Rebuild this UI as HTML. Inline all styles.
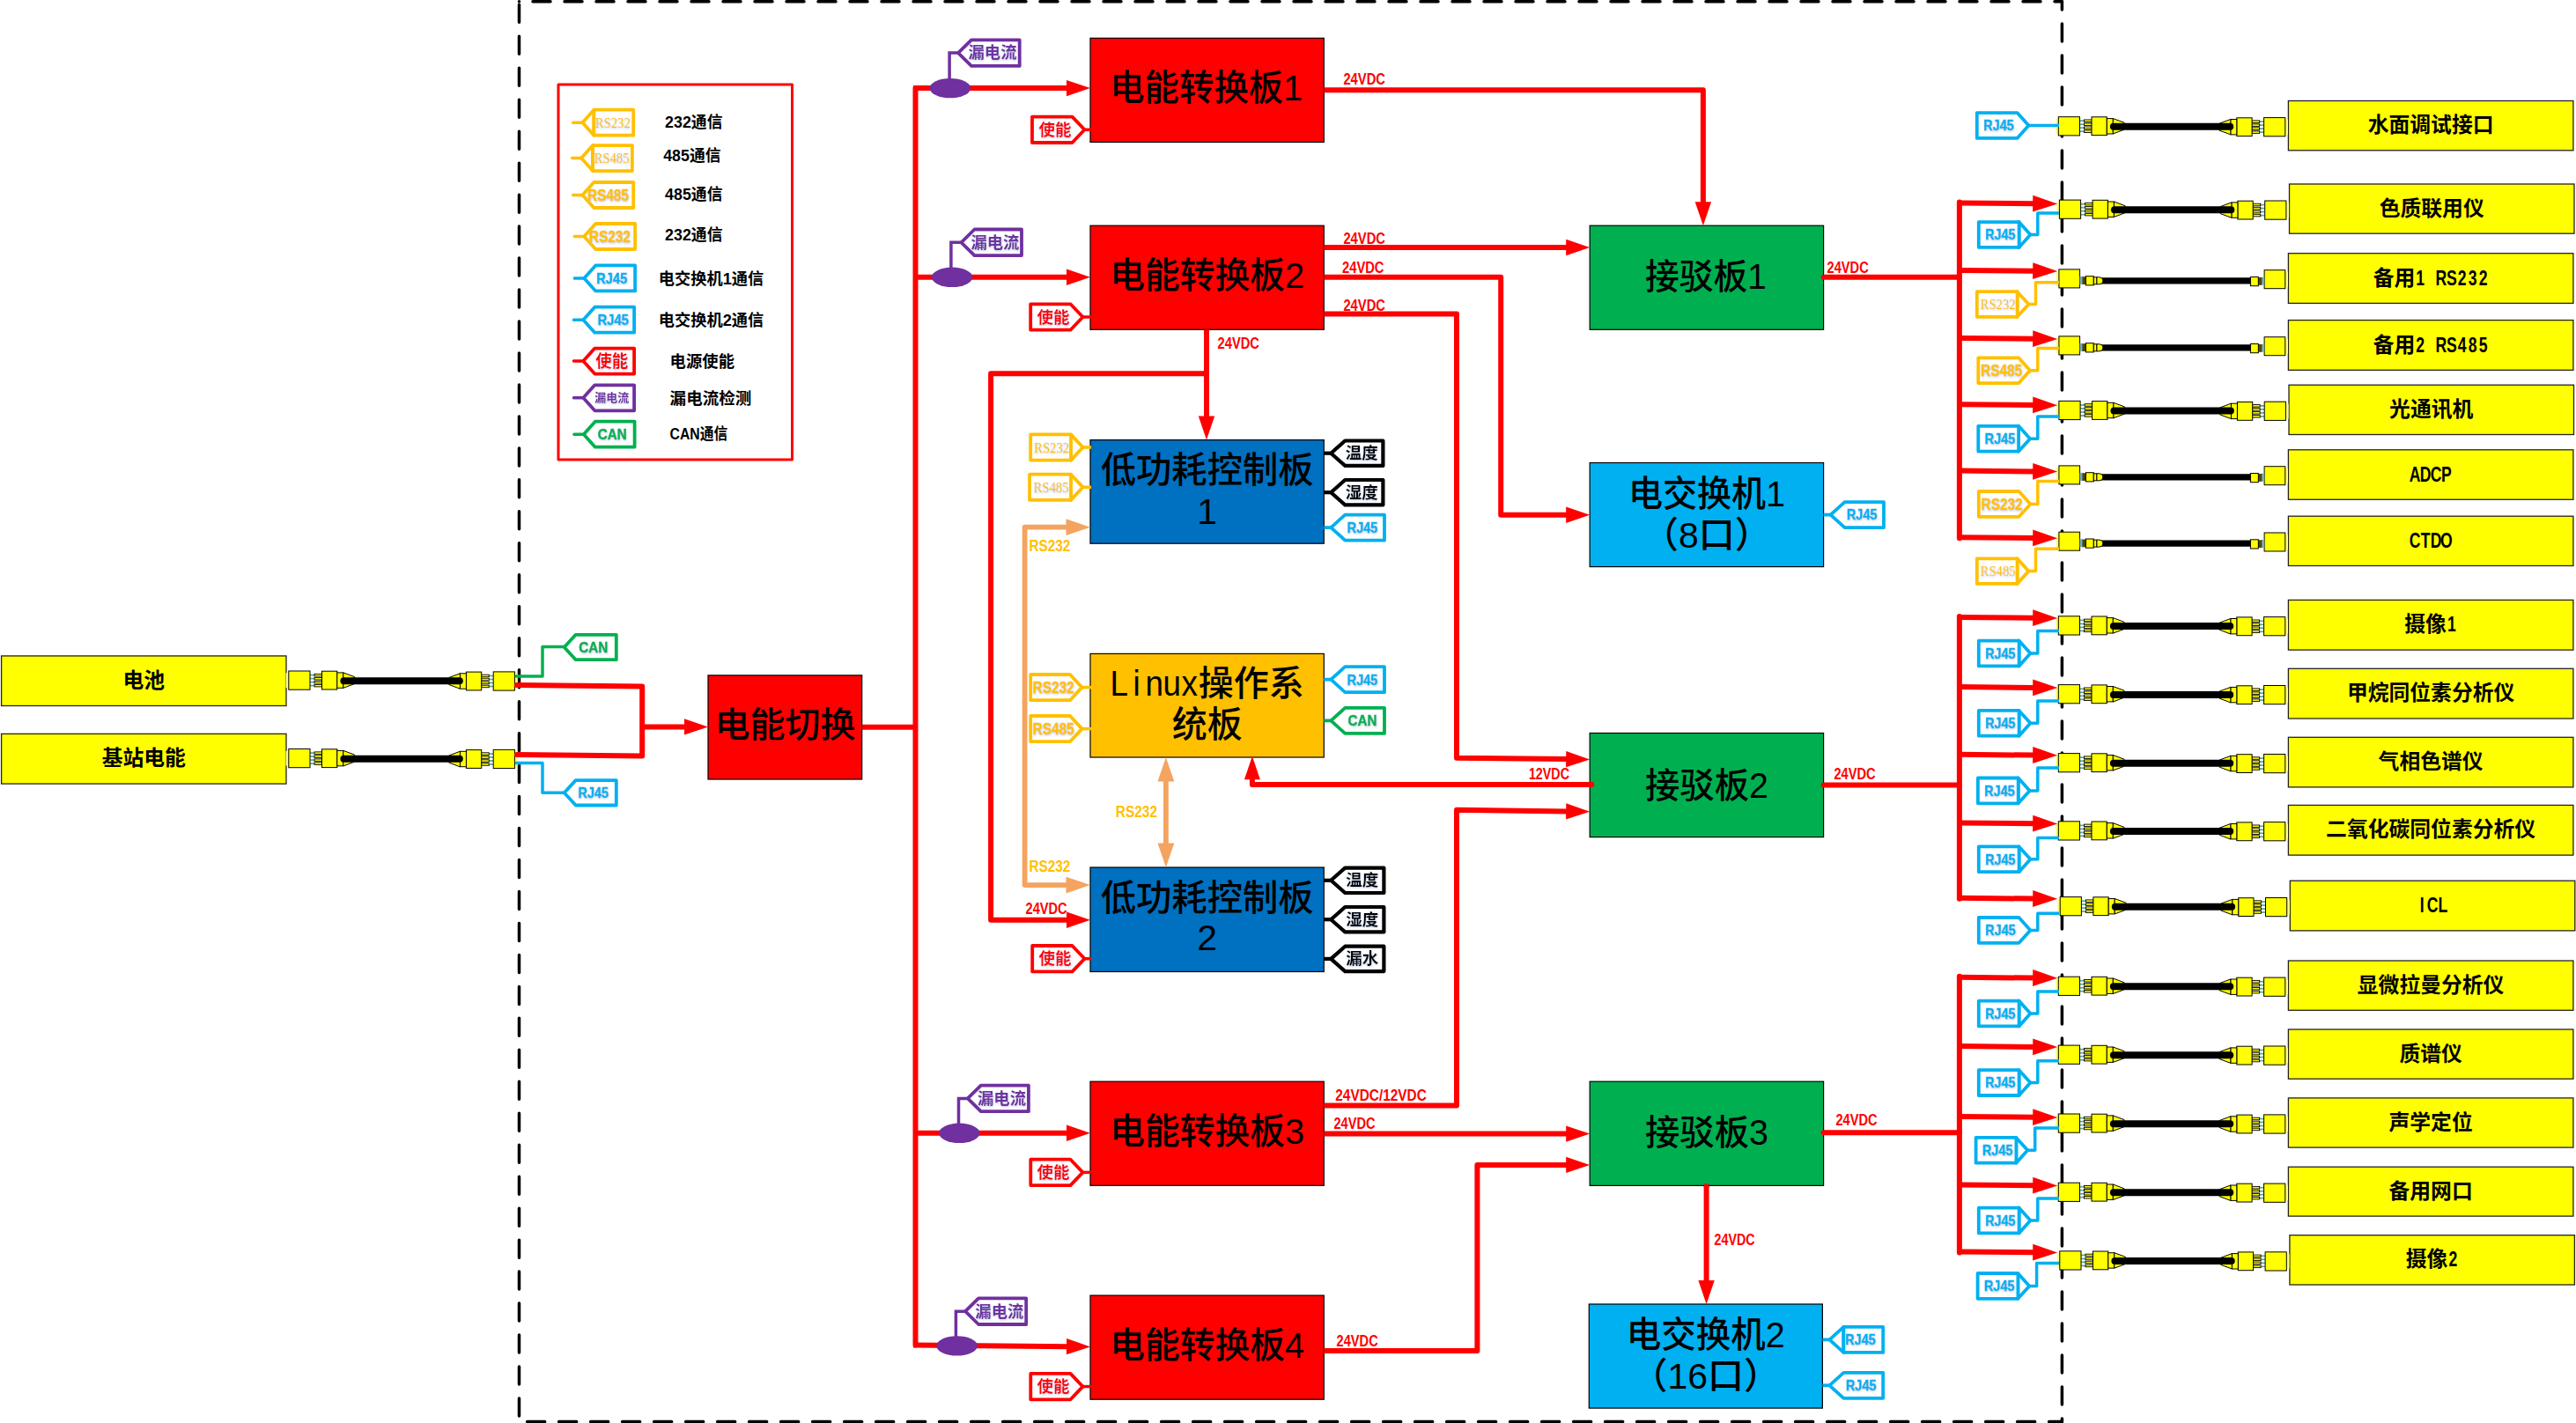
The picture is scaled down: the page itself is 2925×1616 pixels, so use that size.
<!DOCTYPE html>
<html lang="zh"><head><meta charset="utf-8"><title>系统框图</title>
<style>html,body{margin:0;padding:0;background:#fff}svg{display:block}</style></head>
<body><svg width="2925" height="1616" viewBox="0 0 2925 1616">
<defs><filter id="sh" x="-10%" y="-20%" width="120%" height="150%"><feDropShadow dx="0.4" dy="1.1" stdDeviation="0.8" flood-color="#b8c6e4" flood-opacity="0.9"/></filter></defs>
<rect x="0" y="0" width="2925" height="1616" fill="#fff"/>
<line x1="589.5" y1="1.8" x2="2341.4" y2="1.8" stroke="#000" stroke-width="3.5" stroke-dasharray="20 16" stroke-dashoffset="20.5" stroke-linecap="round"/>
<line x1="589.5" y1="1.8" x2="589.5" y2="1614.4" stroke="#000" stroke-width="3.5" stroke-dasharray="20 15.97" stroke-dashoffset="32.45" stroke-linecap="round"/>
<line x1="2341.4" y1="1.8" x2="2341.4" y2="1614.4" stroke="#000" stroke-width="3.5" stroke-dasharray="20 16" stroke-dashoffset="10.75" stroke-linecap="round"/>
<line x1="589.5" y1="1614.4" x2="2341.4" y2="1614.4" stroke="#000" stroke-width="3.5" stroke-dasharray="20 16" stroke-dashoffset="26.85" stroke-linecap="round"/>
<circle cx="589.5" cy="1.8" r="1.75" fill="#000"/>
<rect x="634" y="96" width="265.5" height="426" fill="none" stroke="#FF0000" stroke-width="3" stroke-linejoin="round"/>
<polyline points="650.7,139.2 661.4,139.2" fill="none" stroke="#FFC000" stroke-width="3.5" stroke-linecap="round" stroke-linejoin="round"/>
<polygon points="661.4,139.2 674.4,124.7 674.4,153.7" fill="#fff" stroke="#FFC000" stroke-width="3.8" stroke-linejoin="round"/>
<rect x="674.4" y="124.7" width="44.8" height="29.0" fill="#fff" stroke="#FFC000" stroke-width="3.8" stroke-linejoin="round"/>
<text x="695.8" y="144.8" font-size="16" fill="#FFC000" font-weight="normal" text-anchor="middle" font-family='"Liberation Serif","Noto Serif CJK SC",serif' textLength="40.0" lengthAdjust="spacingAndGlyphs" filter="url(#sh)">RS232</text>
<polyline points="649.7,179.6 660.1,179.6" fill="none" stroke="#FFC000" stroke-width="3.5" stroke-linecap="round" stroke-linejoin="round"/>
<polygon points="660.1,179.6 673.1,165.1 673.1,194.1" fill="#fff" stroke="#FFC000" stroke-width="3.8" stroke-linejoin="round"/>
<rect x="673.1" y="165.1" width="44.8" height="29.0" fill="#fff" stroke="#FFC000" stroke-width="3.8" stroke-linejoin="round"/>
<text x="694.5" y="185.2" font-size="16" fill="#FFC000" font-weight="normal" text-anchor="middle" font-family='"Liberation Serif","Noto Serif CJK SC",serif' textLength="40.0" lengthAdjust="spacingAndGlyphs" filter="url(#sh)">RS485</text>
<polyline points="650.7,221.5 661.4,221.5" fill="none" stroke="#FFC000" stroke-width="3.5" stroke-linecap="round" stroke-linejoin="round"/>
<polygon points="661.4,221.5 674.4,207.0 719.2,207.0 719.2,236.0 674.4,236.0" fill="#fff" stroke="#FFC000" stroke-width="3.8" stroke-linejoin="round"/>
<text x="690.4" y="227.6" font-size="17.5" fill="#FFC000" font-weight="bold" text-anchor="middle" font-family='"Liberation Sans","Noto Sans CJK SC",sans-serif' textLength="47.0" lengthAdjust="spacingAndGlyphs" filter="url(#sh)" stroke="#FFC000" stroke-width="0.5">RS485</text>
<polyline points="652.3,268.5 663.3,268.5" fill="none" stroke="#FFC000" stroke-width="3.5" stroke-linecap="round" stroke-linejoin="round"/>
<polygon points="663.3,268.5 676.3,254.0 721.1,254.0 721.1,283.0 676.3,283.0" fill="#fff" stroke="#FFC000" stroke-width="3.8" stroke-linejoin="round"/>
<text x="692.3" y="274.6" font-size="17.5" fill="#FFC000" font-weight="bold" text-anchor="middle" font-family='"Liberation Sans","Noto Sans CJK SC",sans-serif' textLength="47.0" lengthAdjust="spacingAndGlyphs" filter="url(#sh)" stroke="#FFC000" stroke-width="0.5">RS232</text>
<polyline points="652.3,315.9 663.3,315.9" fill="none" stroke="#00B0F0" stroke-width="3.5" stroke-linecap="round" stroke-linejoin="round"/>
<polygon points="663.3,315.9 676.3,301.4 721.1,301.4 721.1,330.4 676.3,330.4" fill="#fff" stroke="#00B0F0" stroke-width="3.8" stroke-linejoin="round"/>
<text x="694.8" y="321.7" font-size="16.5" fill="#00B0F0" font-weight="bold" text-anchor="middle" font-family='"Liberation Sans","Noto Sans CJK SC",sans-serif' textLength="35.0" lengthAdjust="spacingAndGlyphs" filter="url(#sh)" stroke="#00B0F0" stroke-width="0.5">RJ45</text>
<polyline points="651.5,363.2 662.3,363.2" fill="none" stroke="#00B0F0" stroke-width="3.5" stroke-linecap="round" stroke-linejoin="round"/>
<polygon points="662.3,363.2 675.3,348.7 720.1,348.7 720.1,377.7 675.3,377.7" fill="#fff" stroke="#00B0F0" stroke-width="3.8" stroke-linejoin="round"/>
<text x="696.3" y="369.0" font-size="16.5" fill="#00B0F0" font-weight="bold" text-anchor="middle" font-family='"Liberation Sans","Noto Sans CJK SC",sans-serif' textLength="35.0" lengthAdjust="spacingAndGlyphs" filter="url(#sh)" stroke="#00B0F0" stroke-width="0.5">RJ45</text>
<polyline points="651.5,410.1 662.3,410.1" fill="none" stroke="#FF0000" stroke-width="3.5" stroke-linecap="round" stroke-linejoin="round"/>
<polygon points="662.3,410.1 675.3,395.6 720.1,395.6 720.1,424.6 675.3,424.6" fill="#fff" stroke="#FF0000" stroke-width="3.8" stroke-linejoin="round"/>
<text x="694.8" y="416.8" font-size="19" fill="#FF0000" font-weight="bold" text-anchor="middle" font-family='"Liberation Sans","Noto Sans CJK SC",sans-serif' textLength="37.0" lengthAdjust="spacingAndGlyphs" filter="url(#sh)">使能</text>
<polyline points="651.5,451.8 662.3,451.8" fill="none" stroke="#7030A0" stroke-width="3.5" stroke-linecap="round" stroke-linejoin="round"/>
<polygon points="662.3,451.8 675.3,437.3 720.1,437.3 720.1,466.3 675.3,466.3" fill="#fff" stroke="#7030A0" stroke-width="3.8" stroke-linejoin="round"/>
<text x="694.8" y="456.4" font-size="13" fill="#7030A0" font-weight="bold" text-anchor="middle" font-family='"Liberation Sans","Noto Sans CJK SC",sans-serif' filter="url(#sh)">漏电流</text>
<polyline points="652.0,493.2 662.8,493.2" fill="none" stroke="#00B050" stroke-width="3.5" stroke-linecap="round" stroke-linejoin="round"/>
<polygon points="662.8,493.2 675.8,478.7 720.6,478.7 720.6,507.7 675.8,507.7" fill="#fff" stroke="#00B050" stroke-width="3.8" stroke-linejoin="round"/>
<text x="695.3" y="499.0" font-size="16.5" fill="#00B050" font-weight="bold" text-anchor="middle" font-family='"Liberation Sans","Noto Sans CJK SC",sans-serif' textLength="33.0" lengthAdjust="spacingAndGlyphs" filter="url(#sh)" stroke="#00B050" stroke-width="0.5">CAN</text>
<text x="755.1" y="145.3" font-size="18.5" fill="#000" font-weight="bold" text-anchor="start" font-family='"Liberation Sans","Noto Sans CJK SC",sans-serif' textLength="65.4" lengthAdjust="spacingAndGlyphs" >232通信</text>
<text x="753.2" y="182.8" font-size="18.5" fill="#000" font-weight="bold" text-anchor="start" font-family='"Liberation Sans","Noto Sans CJK SC",sans-serif' textLength="65.4" lengthAdjust="spacingAndGlyphs" >485通信</text>
<text x="755.1" y="227.1" font-size="18.5" fill="#000" font-weight="bold" text-anchor="start" font-family='"Liberation Sans","Noto Sans CJK SC",sans-serif' textLength="65.4" lengthAdjust="spacingAndGlyphs" >485通信</text>
<text x="755.1" y="273.4" font-size="18.5" fill="#000" font-weight="bold" text-anchor="start" font-family='"Liberation Sans","Noto Sans CJK SC",sans-serif' textLength="65.4" lengthAdjust="spacingAndGlyphs" >232通信</text>
<text x="747.7" y="322.5" font-size="18.5" fill="#000" font-weight="bold" text-anchor="start" font-family='"Liberation Sans","Noto Sans CJK SC",sans-serif' textLength="119.6" lengthAdjust="spacingAndGlyphs" >电交换机1通信</text>
<text x="747.7" y="369.7" font-size="18.5" fill="#000" font-weight="bold" text-anchor="start" font-family='"Liberation Sans","Noto Sans CJK SC",sans-serif' textLength="119.6" lengthAdjust="spacingAndGlyphs" >电交换机2通信</text>
<text x="760.6" y="416.9" font-size="18.5" fill="#000" font-weight="bold" text-anchor="start" font-family='"Liberation Sans","Noto Sans CJK SC",sans-serif' textLength="73.4" lengthAdjust="spacingAndGlyphs" >电源使能</text>
<text x="760.6" y="459.0" font-size="18.5" fill="#000" font-weight="bold" text-anchor="start" font-family='"Liberation Sans","Noto Sans CJK SC",sans-serif' textLength="92.8" lengthAdjust="spacingAndGlyphs" >漏电流检测</text>
<text x="760.6" y="498.7" font-size="18.5" fill="#000" font-weight="bold" text-anchor="start" font-family='"Liberation Sans","Noto Sans CJK SC",sans-serif' textLength="65.7" lengthAdjust="spacingAndGlyphs" >CAN通信</text>
<rect x="2598.4" y="114.5" width="323.5" height="56.3" fill="#FFFF00" stroke="#222" stroke-width="1.3"/>
<text x="2688.7" y="150.2" font-size="23.8" fill="#000" font-weight="bold" text-anchor="start" font-family='"Liberation Sans","Noto Sans CJK SC",sans-serif' textLength="142.8" lengthAdjust="spacingAndGlyphs" >水面调试接口</text>
<rect x="2334.1" y="134.8" width="3.2" height="16.8" fill="#FFFF80" stroke="none" stroke-width="0"/>
<rect x="2361.5" y="136.3" width="5.8" height="1.8" fill="#5fa8a0" stroke="none" stroke-width="0"/>
<rect x="2366.5" y="136.0" width="8.8" height="2.5" fill="#FFFF00" stroke="#000" stroke-width="0.9"/>
<rect x="2361.5" y="140.3" width="5.8" height="1.8" fill="#5fa8a0" stroke="none" stroke-width="0"/>
<rect x="2366.5" y="140.0" width="8.8" height="2.5" fill="#FFFF00" stroke="#000" stroke-width="0.9"/>
<rect x="2361.5" y="144.3" width="5.8" height="1.8" fill="#5fa8a0" stroke="none" stroke-width="0"/>
<rect x="2366.5" y="144.0" width="8.8" height="2.5" fill="#FFFF00" stroke="#000" stroke-width="0.9"/>
<rect x="2361.5" y="148.3" width="5.8" height="1.8" fill="#5fa8a0" stroke="none" stroke-width="0"/>
<rect x="2366.5" y="148.0" width="8.8" height="2.5" fill="#FFFF00" stroke="#000" stroke-width="0.9"/>
<rect x="2337.3" y="132.7" width="24.2" height="21.2" fill="#FFFF00" stroke="#000" stroke-width="1"/>
<rect x="2375.0" y="132.8" width="17.3" height="20.8" fill="#FFFF00" stroke="#000" stroke-width="1"/>
<rect x="2392.3" y="134.6" width="7.0" height="17.4" fill="#FFFF00" stroke="#000" stroke-width="1"/>
<polygon points="2399.3,134.6 2412.0,139.2 2412.0,147.2 2399.3,151.9" fill="#FFFF00" stroke="#000" stroke-width="1" stroke-linejoin="round"/>
<rect x="2594.8" y="135.8" width="3.2" height="16.8" fill="#FFFF80" stroke="none" stroke-width="0"/>
<rect x="2564.8" y="137.2" width="5.8" height="1.8" fill="#5fa8a0" stroke="none" stroke-width="0"/>
<rect x="2556.8" y="136.9" width="8.8" height="2.5" fill="#FFFF00" stroke="#000" stroke-width="0.9"/>
<rect x="2564.8" y="141.2" width="5.8" height="1.8" fill="#5fa8a0" stroke="none" stroke-width="0"/>
<rect x="2556.8" y="140.9" width="8.8" height="2.5" fill="#FFFF00" stroke="#000" stroke-width="0.9"/>
<rect x="2564.8" y="145.2" width="5.8" height="1.8" fill="#5fa8a0" stroke="none" stroke-width="0"/>
<rect x="2556.8" y="144.9" width="8.8" height="2.5" fill="#FFFF00" stroke="#000" stroke-width="0.9"/>
<rect x="2564.8" y="149.2" width="5.8" height="1.8" fill="#5fa8a0" stroke="none" stroke-width="0"/>
<rect x="2556.8" y="148.9" width="8.8" height="2.5" fill="#FFFF00" stroke="#000" stroke-width="0.9"/>
<rect x="2570.6" y="133.6" width="24.2" height="21.2" fill="#FFFF00" stroke="#000" stroke-width="1"/>
<rect x="2539.8" y="133.8" width="17.3" height="20.8" fill="#FFFF00" stroke="#000" stroke-width="1"/>
<rect x="2532.8" y="135.5" width="7.0" height="17.4" fill="#FFFF00" stroke="#000" stroke-width="1"/>
<polygon points="2532.8,135.5 2520.1,140.2 2520.1,148.2 2532.8,152.8" fill="#FFFF00" stroke="#000" stroke-width="1" stroke-linejoin="round"/>
<polyline points="2399.9,143.8 2532.2,143.8" fill="none" stroke="#000" stroke-width="8" stroke-linecap="round" stroke-linejoin="round"/>
<rect x="2599.5" y="209.0" width="323.5" height="56.2" fill="#FFFF00" stroke="#222" stroke-width="1.3"/>
<text x="2701.7" y="244.7" font-size="23.8" fill="#000" font-weight="bold" text-anchor="start" font-family='"Liberation Sans","Noto Sans CJK SC",sans-serif' textLength="119.0" lengthAdjust="spacingAndGlyphs" >色质联用仪</text>
<rect x="2335.2" y="229.3" width="3.2" height="16.8" fill="#FFFF80" stroke="none" stroke-width="0"/>
<rect x="2362.6" y="230.8" width="5.8" height="1.8" fill="#5fa8a0" stroke="none" stroke-width="0"/>
<rect x="2367.6" y="230.4" width="8.8" height="2.5" fill="#FFFF00" stroke="#000" stroke-width="0.9"/>
<rect x="2362.6" y="234.8" width="5.8" height="1.8" fill="#5fa8a0" stroke="none" stroke-width="0"/>
<rect x="2367.6" y="234.4" width="8.8" height="2.5" fill="#FFFF00" stroke="#000" stroke-width="0.9"/>
<rect x="2362.6" y="238.8" width="5.8" height="1.8" fill="#5fa8a0" stroke="none" stroke-width="0"/>
<rect x="2367.6" y="238.4" width="8.8" height="2.5" fill="#FFFF00" stroke="#000" stroke-width="0.9"/>
<rect x="2362.6" y="242.8" width="5.8" height="1.8" fill="#5fa8a0" stroke="none" stroke-width="0"/>
<rect x="2367.6" y="242.4" width="8.8" height="2.5" fill="#FFFF00" stroke="#000" stroke-width="0.9"/>
<rect x="2338.4" y="227.1" width="24.2" height="21.2" fill="#FFFF00" stroke="#000" stroke-width="1"/>
<rect x="2376.1" y="227.3" width="17.3" height="20.8" fill="#FFFF00" stroke="#000" stroke-width="1"/>
<rect x="2393.4" y="229.0" width="7.0" height="17.4" fill="#FFFF00" stroke="#000" stroke-width="1"/>
<polygon points="2400.4,229.0 2413.1,233.7 2413.1,241.7 2400.4,246.4" fill="#FFFF00" stroke="#000" stroke-width="1" stroke-linejoin="round"/>
<rect x="2595.9" y="230.2" width="3.2" height="16.8" fill="#FFFF80" stroke="none" stroke-width="0"/>
<rect x="2565.9" y="231.7" width="5.8" height="1.8" fill="#5fa8a0" stroke="none" stroke-width="0"/>
<rect x="2557.9" y="231.3" width="8.8" height="2.5" fill="#FFFF00" stroke="#000" stroke-width="0.9"/>
<rect x="2565.9" y="235.7" width="5.8" height="1.8" fill="#5fa8a0" stroke="none" stroke-width="0"/>
<rect x="2557.9" y="235.3" width="8.8" height="2.5" fill="#FFFF00" stroke="#000" stroke-width="0.9"/>
<rect x="2565.9" y="239.7" width="5.8" height="1.8" fill="#5fa8a0" stroke="none" stroke-width="0"/>
<rect x="2557.9" y="239.3" width="8.8" height="2.5" fill="#FFFF00" stroke="#000" stroke-width="0.9"/>
<rect x="2565.9" y="243.7" width="5.8" height="1.8" fill="#5fa8a0" stroke="none" stroke-width="0"/>
<rect x="2557.9" y="243.3" width="8.8" height="2.5" fill="#FFFF00" stroke="#000" stroke-width="0.9"/>
<rect x="2571.7" y="228.0" width="24.2" height="21.2" fill="#FFFF00" stroke="#000" stroke-width="1"/>
<rect x="2540.9" y="228.2" width="17.3" height="20.8" fill="#FFFF00" stroke="#000" stroke-width="1"/>
<rect x="2533.9" y="229.9" width="7.0" height="17.4" fill="#FFFF00" stroke="#000" stroke-width="1"/>
<polygon points="2533.9,229.9 2521.2,234.6 2521.2,242.6 2533.9,247.3" fill="#FFFF00" stroke="#000" stroke-width="1" stroke-linejoin="round"/>
<polyline points="2401.0,238.3 2533.3,238.3" fill="none" stroke="#000" stroke-width="8" stroke-linecap="round" stroke-linejoin="round"/>
<rect x="2598.4" y="287.7" width="323.5" height="56.7" fill="#FFFF00" stroke="#222" stroke-width="1.3"/>
<text x="2694.7" y="323.6" font-size="23.8" fill="#000" font-weight="bold" text-anchor="start" font-family='"Liberation Sans","Noto Sans CJK SC",sans-serif' textLength="47.6" lengthAdjust="spacingAndGlyphs" >备用</text>
<text transform="translate(2742.2,323.6) scale(0.74,1)" x="8.0 40.2 56.3 72.4 88.4 104.5" y="0" font-size="23.8" fill="#000" font-weight="bold" text-anchor="middle" font-family='"Liberation Sans","Noto Sans CJK SC",sans-serif'>1RS232</text>
<polyline points="2383.9,318.8 2556.8,318.8" fill="none" stroke="#000" stroke-width="7.2" stroke-linecap="butt" stroke-linejoin="round"/>
<rect x="2334.7" y="308.0" width="3.2" height="16.8" fill="#FFFF80" stroke="none" stroke-width="0"/>
<rect x="2337.9" y="305.9" width="23.7" height="21.0" fill="#FFFF00" stroke="#000" stroke-width="1"/>
<rect x="2361.6" y="313.9" width="3.3" height="9.0" fill="#6fb0c0" stroke="none" stroke-width="0"/>
<rect x="2364.4" y="314.2" width="4.5" height="8.8" fill="#554400" stroke="none" stroke-width="0"/>
<rect x="2368.4" y="313.7" width="8.9" height="10.2" fill="#FFFF00" stroke="#000" stroke-width="1"/>
<rect x="2377.3" y="314.8" width="3.6" height="8.0" fill="#FFFF00" stroke="#000" stroke-width="1"/>
<path d="M2380.9,314.8 h3 a4,4 0 0 1 0,8 h-3 z" fill="#FFFF00" stroke="#000" stroke-width="1"/>
<rect x="2594.8" y="308.8" width="3.2" height="16.8" fill="#FFFF80" stroke="none" stroke-width="0"/>
<rect x="2571.1" y="306.7" width="23.7" height="21.0" fill="#FFFF00" stroke="#000" stroke-width="1"/>
<rect x="2567.8" y="314.7" width="3.3" height="9.0" fill="#6fb0c0" stroke="none" stroke-width="0"/>
<rect x="2563.8" y="315.0" width="4.5" height="8.8" fill="#554400" stroke="none" stroke-width="0"/>
<rect x="2555.4" y="314.5" width="8.9" height="10.2" fill="#FFFF00" stroke="#000" stroke-width="1"/>
<rect x="2598.4" y="363.6" width="323.5" height="56.7" fill="#FFFF00" stroke="#222" stroke-width="1.3"/>
<text x="2694.7" y="399.6" font-size="23.8" fill="#000" font-weight="bold" text-anchor="start" font-family='"Liberation Sans","Noto Sans CJK SC",sans-serif' textLength="47.6" lengthAdjust="spacingAndGlyphs" >备用</text>
<text transform="translate(2742.2,399.6) scale(0.74,1)" x="8.0 40.2 56.3 72.4 88.4 104.5" y="0" font-size="23.8" fill="#000" font-weight="bold" text-anchor="middle" font-family='"Liberation Sans","Noto Sans CJK SC",sans-serif'>2RS485</text>
<polyline points="2383.9,394.8 2556.8,394.8" fill="none" stroke="#000" stroke-width="7.2" stroke-linecap="butt" stroke-linejoin="round"/>
<rect x="2334.7" y="384.0" width="3.2" height="16.8" fill="#FFFF80" stroke="none" stroke-width="0"/>
<rect x="2337.9" y="381.9" width="23.7" height="21.0" fill="#FFFF00" stroke="#000" stroke-width="1"/>
<rect x="2361.6" y="389.9" width="3.3" height="9.0" fill="#6fb0c0" stroke="none" stroke-width="0"/>
<rect x="2364.4" y="390.2" width="4.5" height="8.8" fill="#554400" stroke="none" stroke-width="0"/>
<rect x="2368.4" y="389.7" width="8.9" height="10.2" fill="#FFFF00" stroke="#000" stroke-width="1"/>
<rect x="2377.3" y="390.8" width="3.6" height="8.0" fill="#FFFF00" stroke="#000" stroke-width="1"/>
<path d="M2380.9,390.8 h3 a4,4 0 0 1 0,8 h-3 z" fill="#FFFF00" stroke="#000" stroke-width="1"/>
<rect x="2594.8" y="384.8" width="3.2" height="16.8" fill="#FFFF80" stroke="none" stroke-width="0"/>
<rect x="2571.1" y="382.7" width="23.7" height="21.0" fill="#FFFF00" stroke="#000" stroke-width="1"/>
<rect x="2567.8" y="390.7" width="3.3" height="9.0" fill="#6fb0c0" stroke="none" stroke-width="0"/>
<rect x="2563.8" y="391.0" width="4.5" height="8.8" fill="#554400" stroke="none" stroke-width="0"/>
<rect x="2555.4" y="390.5" width="8.9" height="10.2" fill="#FFFF00" stroke="#000" stroke-width="1"/>
<rect x="2599.0" y="437.2" width="323.5" height="56.3" fill="#FFFF00" stroke="#222" stroke-width="1.3"/>
<text x="2713.1" y="473.0" font-size="23.8" fill="#000" font-weight="bold" text-anchor="start" font-family='"Liberation Sans","Noto Sans CJK SC",sans-serif' textLength="95.2" lengthAdjust="spacingAndGlyphs" >光通讯机</text>
<rect x="2334.7" y="457.6" width="3.2" height="16.8" fill="#FFFF80" stroke="none" stroke-width="0"/>
<rect x="2362.1" y="459.1" width="5.8" height="1.8" fill="#5fa8a0" stroke="none" stroke-width="0"/>
<rect x="2367.1" y="458.7" width="8.8" height="2.5" fill="#FFFF00" stroke="#000" stroke-width="0.9"/>
<rect x="2362.1" y="463.1" width="5.8" height="1.8" fill="#5fa8a0" stroke="none" stroke-width="0"/>
<rect x="2367.1" y="462.7" width="8.8" height="2.5" fill="#FFFF00" stroke="#000" stroke-width="0.9"/>
<rect x="2362.1" y="467.1" width="5.8" height="1.8" fill="#5fa8a0" stroke="none" stroke-width="0"/>
<rect x="2367.1" y="466.7" width="8.8" height="2.5" fill="#FFFF00" stroke="#000" stroke-width="0.9"/>
<rect x="2362.1" y="471.1" width="5.8" height="1.8" fill="#5fa8a0" stroke="none" stroke-width="0"/>
<rect x="2367.1" y="470.7" width="8.8" height="2.5" fill="#FFFF00" stroke="#000" stroke-width="0.9"/>
<rect x="2337.9" y="455.4" width="24.2" height="21.2" fill="#FFFF00" stroke="#000" stroke-width="1"/>
<rect x="2375.6" y="455.6" width="17.3" height="20.8" fill="#FFFF00" stroke="#000" stroke-width="1"/>
<rect x="2392.9" y="457.3" width="7.0" height="17.4" fill="#FFFF00" stroke="#000" stroke-width="1"/>
<polygon points="2399.9,457.3 2412.6,462.0 2412.6,470.0 2399.9,474.7" fill="#FFFF00" stroke="#000" stroke-width="1" stroke-linejoin="round"/>
<rect x="2595.4" y="458.5" width="3.2" height="16.8" fill="#FFFF80" stroke="none" stroke-width="0"/>
<rect x="2565.4" y="460.0" width="5.8" height="1.8" fill="#5fa8a0" stroke="none" stroke-width="0"/>
<rect x="2557.4" y="459.6" width="8.8" height="2.5" fill="#FFFF00" stroke="#000" stroke-width="0.9"/>
<rect x="2565.4" y="464.0" width="5.8" height="1.8" fill="#5fa8a0" stroke="none" stroke-width="0"/>
<rect x="2557.4" y="463.6" width="8.8" height="2.5" fill="#FFFF00" stroke="#000" stroke-width="0.9"/>
<rect x="2565.4" y="468.0" width="5.8" height="1.8" fill="#5fa8a0" stroke="none" stroke-width="0"/>
<rect x="2557.4" y="467.6" width="8.8" height="2.5" fill="#FFFF00" stroke="#000" stroke-width="0.9"/>
<rect x="2565.4" y="472.0" width="5.8" height="1.8" fill="#5fa8a0" stroke="none" stroke-width="0"/>
<rect x="2557.4" y="471.6" width="8.8" height="2.5" fill="#FFFF00" stroke="#000" stroke-width="0.9"/>
<rect x="2571.2" y="456.2" width="24.2" height="21.2" fill="#FFFF00" stroke="#000" stroke-width="1"/>
<rect x="2540.4" y="456.5" width="17.3" height="20.8" fill="#FFFF00" stroke="#000" stroke-width="1"/>
<rect x="2533.4" y="458.2" width="7.0" height="17.4" fill="#FFFF00" stroke="#000" stroke-width="1"/>
<polygon points="2533.4,458.2 2520.7,462.9 2520.7,470.9 2533.4,475.6" fill="#FFFF00" stroke="#000" stroke-width="1" stroke-linejoin="round"/>
<polyline points="2400.5,466.6 2532.8,466.6" fill="none" stroke="#000" stroke-width="8" stroke-linecap="round" stroke-linejoin="round"/>
<rect x="2598.4" y="510.8" width="323.5" height="56.5" fill="#FFFF00" stroke="#222" stroke-width="1.3"/>
<text transform="translate(2736.3,546.6) scale(0.74,1)" x="8.0 24.1 40.2 56.3" y="0" font-size="23.8" fill="#000" font-weight="bold" text-anchor="middle" font-family='"Liberation Sans","Noto Sans CJK SC",sans-serif'>ADCP</text>
<polyline points="2383.9,541.8 2556.8,541.8" fill="none" stroke="#000" stroke-width="7.2" stroke-linecap="butt" stroke-linejoin="round"/>
<rect x="2334.7" y="531.0" width="3.2" height="16.8" fill="#FFFF80" stroke="none" stroke-width="0"/>
<rect x="2337.9" y="528.9" width="23.7" height="21.0" fill="#FFFF00" stroke="#000" stroke-width="1"/>
<rect x="2361.6" y="536.9" width="3.3" height="9.0" fill="#6fb0c0" stroke="none" stroke-width="0"/>
<rect x="2364.4" y="537.2" width="4.5" height="8.8" fill="#554400" stroke="none" stroke-width="0"/>
<rect x="2368.4" y="536.7" width="8.9" height="10.2" fill="#FFFF00" stroke="#000" stroke-width="1"/>
<rect x="2377.3" y="537.8" width="3.6" height="8.0" fill="#FFFF00" stroke="#000" stroke-width="1"/>
<path d="M2380.9,537.8 h3 a4,4 0 0 1 0,8 h-3 z" fill="#FFFF00" stroke="#000" stroke-width="1"/>
<rect x="2594.8" y="531.8" width="3.2" height="16.8" fill="#FFFF80" stroke="none" stroke-width="0"/>
<rect x="2571.1" y="529.7" width="23.7" height="21.0" fill="#FFFF00" stroke="#000" stroke-width="1"/>
<rect x="2567.8" y="537.7" width="3.3" height="9.0" fill="#6fb0c0" stroke="none" stroke-width="0"/>
<rect x="2563.8" y="538.0" width="4.5" height="8.8" fill="#554400" stroke="none" stroke-width="0"/>
<rect x="2555.4" y="537.5" width="8.9" height="10.2" fill="#FFFF00" stroke="#000" stroke-width="1"/>
<rect x="2598.4" y="586.2" width="323.5" height="56.3" fill="#FFFF00" stroke="#222" stroke-width="1.3"/>
<text transform="translate(2736.3,622.0) scale(0.74,1)" x="8.0 24.1 40.2 56.3" y="0" font-size="23.8" fill="#000" font-weight="bold" text-anchor="middle" font-family='"Liberation Sans","Noto Sans CJK SC",sans-serif'>CTDO</text>
<polyline points="2383.9,617.1 2556.8,617.1" fill="none" stroke="#000" stroke-width="7.2" stroke-linecap="butt" stroke-linejoin="round"/>
<rect x="2334.7" y="606.4" width="3.2" height="16.8" fill="#FFFF80" stroke="none" stroke-width="0"/>
<rect x="2337.9" y="604.2" width="23.7" height="21.0" fill="#FFFF00" stroke="#000" stroke-width="1"/>
<rect x="2361.6" y="612.2" width="3.3" height="9.0" fill="#6fb0c0" stroke="none" stroke-width="0"/>
<rect x="2364.4" y="612.5" width="4.5" height="8.8" fill="#554400" stroke="none" stroke-width="0"/>
<rect x="2368.4" y="612.0" width="8.9" height="10.2" fill="#FFFF00" stroke="#000" stroke-width="1"/>
<rect x="2377.3" y="613.1" width="3.6" height="8.0" fill="#FFFF00" stroke="#000" stroke-width="1"/>
<path d="M2380.9,613.1 h3 a4,4 0 0 1 0,8 h-3 z" fill="#FFFF00" stroke="#000" stroke-width="1"/>
<rect x="2594.8" y="607.1" width="3.2" height="16.8" fill="#FFFF80" stroke="none" stroke-width="0"/>
<rect x="2571.1" y="605.0" width="23.7" height="21.0" fill="#FFFF00" stroke="#000" stroke-width="1"/>
<rect x="2567.8" y="613.0" width="3.3" height="9.0" fill="#6fb0c0" stroke="none" stroke-width="0"/>
<rect x="2563.8" y="613.3" width="4.5" height="8.8" fill="#554400" stroke="none" stroke-width="0"/>
<rect x="2555.4" y="612.8" width="8.9" height="10.2" fill="#FFFF00" stroke="#000" stroke-width="1"/>
<rect x="2598.4" y="681.4" width="323.5" height="56.7" fill="#FFFF00" stroke="#222" stroke-width="1.3"/>
<text x="2730.3" y="717.4" font-size="23.8" fill="#000" font-weight="bold" text-anchor="start" font-family='"Liberation Sans","Noto Sans CJK SC",sans-serif' textLength="47.6" lengthAdjust="spacingAndGlyphs" >摄像</text>
<text transform="translate(2777.9,717.4) scale(0.74,1)" x="8.0" y="0" font-size="23.8" fill="#000" font-weight="bold" text-anchor="middle" font-family='"Liberation Sans","Noto Sans CJK SC",sans-serif'>1</text>
<rect x="2334.1" y="702.0" width="3.2" height="16.8" fill="#FFFF80" stroke="none" stroke-width="0"/>
<rect x="2361.5" y="703.5" width="5.8" height="1.8" fill="#5fa8a0" stroke="none" stroke-width="0"/>
<rect x="2366.5" y="703.1" width="8.8" height="2.5" fill="#FFFF00" stroke="#000" stroke-width="0.9"/>
<rect x="2361.5" y="707.5" width="5.8" height="1.8" fill="#5fa8a0" stroke="none" stroke-width="0"/>
<rect x="2366.5" y="707.1" width="8.8" height="2.5" fill="#FFFF00" stroke="#000" stroke-width="0.9"/>
<rect x="2361.5" y="711.5" width="5.8" height="1.8" fill="#5fa8a0" stroke="none" stroke-width="0"/>
<rect x="2366.5" y="711.1" width="8.8" height="2.5" fill="#FFFF00" stroke="#000" stroke-width="0.9"/>
<rect x="2361.5" y="715.5" width="5.8" height="1.8" fill="#5fa8a0" stroke="none" stroke-width="0"/>
<rect x="2366.5" y="715.1" width="8.8" height="2.5" fill="#FFFF00" stroke="#000" stroke-width="0.9"/>
<rect x="2337.3" y="699.8" width="24.2" height="21.2" fill="#FFFF00" stroke="#000" stroke-width="1"/>
<rect x="2375.0" y="700.0" width="17.3" height="20.8" fill="#FFFF00" stroke="#000" stroke-width="1"/>
<rect x="2392.3" y="701.6" width="7.0" height="17.4" fill="#FFFF00" stroke="#000" stroke-width="1"/>
<polygon points="2399.3,701.6 2412.0,706.4 2412.0,714.4 2399.3,719.1" fill="#FFFF00" stroke="#000" stroke-width="1" stroke-linejoin="round"/>
<rect x="2594.8" y="702.9" width="3.2" height="16.8" fill="#FFFF80" stroke="none" stroke-width="0"/>
<rect x="2564.8" y="704.4" width="5.8" height="1.8" fill="#5fa8a0" stroke="none" stroke-width="0"/>
<rect x="2556.8" y="704.0" width="8.8" height="2.5" fill="#FFFF00" stroke="#000" stroke-width="0.9"/>
<rect x="2564.8" y="708.4" width="5.8" height="1.8" fill="#5fa8a0" stroke="none" stroke-width="0"/>
<rect x="2556.8" y="708.0" width="8.8" height="2.5" fill="#FFFF00" stroke="#000" stroke-width="0.9"/>
<rect x="2564.8" y="712.4" width="5.8" height="1.8" fill="#5fa8a0" stroke="none" stroke-width="0"/>
<rect x="2556.8" y="712.0" width="8.8" height="2.5" fill="#FFFF00" stroke="#000" stroke-width="0.9"/>
<rect x="2564.8" y="716.4" width="5.8" height="1.8" fill="#5fa8a0" stroke="none" stroke-width="0"/>
<rect x="2556.8" y="716.0" width="8.8" height="2.5" fill="#FFFF00" stroke="#000" stroke-width="0.9"/>
<rect x="2570.6" y="700.6" width="24.2" height="21.2" fill="#FFFF00" stroke="#000" stroke-width="1"/>
<rect x="2539.8" y="700.9" width="17.3" height="20.8" fill="#FFFF00" stroke="#000" stroke-width="1"/>
<rect x="2532.8" y="702.5" width="7.0" height="17.4" fill="#FFFF00" stroke="#000" stroke-width="1"/>
<polygon points="2532.8,702.5 2520.1,707.2 2520.1,715.2 2532.8,720.0" fill="#FFFF00" stroke="#000" stroke-width="1" stroke-linejoin="round"/>
<polyline points="2399.9,711.0 2532.2,711.0" fill="none" stroke="#000" stroke-width="8" stroke-linecap="round" stroke-linejoin="round"/>
<rect x="2598.4" y="759.3" width="323.5" height="56.7" fill="#FFFF00" stroke="#222" stroke-width="1.3"/>
<text x="2664.9" y="795.2" font-size="23.8" fill="#000" font-weight="bold" text-anchor="start" font-family='"Liberation Sans","Noto Sans CJK SC",sans-serif' textLength="190.4" lengthAdjust="spacingAndGlyphs" >甲烷同位素分析仪</text>
<rect x="2334.1" y="779.9" width="3.2" height="16.8" fill="#FFFF80" stroke="none" stroke-width="0"/>
<rect x="2361.5" y="781.4" width="5.8" height="1.8" fill="#5fa8a0" stroke="none" stroke-width="0"/>
<rect x="2366.5" y="781.0" width="8.8" height="2.5" fill="#FFFF00" stroke="#000" stroke-width="0.9"/>
<rect x="2361.5" y="785.4" width="5.8" height="1.8" fill="#5fa8a0" stroke="none" stroke-width="0"/>
<rect x="2366.5" y="785.0" width="8.8" height="2.5" fill="#FFFF00" stroke="#000" stroke-width="0.9"/>
<rect x="2361.5" y="789.4" width="5.8" height="1.8" fill="#5fa8a0" stroke="none" stroke-width="0"/>
<rect x="2366.5" y="789.0" width="8.8" height="2.5" fill="#FFFF00" stroke="#000" stroke-width="0.9"/>
<rect x="2361.5" y="793.4" width="5.8" height="1.8" fill="#5fa8a0" stroke="none" stroke-width="0"/>
<rect x="2366.5" y="793.0" width="8.8" height="2.5" fill="#FFFF00" stroke="#000" stroke-width="0.9"/>
<rect x="2337.3" y="777.6" width="24.2" height="21.2" fill="#FFFF00" stroke="#000" stroke-width="1"/>
<rect x="2375.0" y="777.9" width="17.3" height="20.8" fill="#FFFF00" stroke="#000" stroke-width="1"/>
<rect x="2392.3" y="779.5" width="7.0" height="17.4" fill="#FFFF00" stroke="#000" stroke-width="1"/>
<polygon points="2399.3,779.5 2412.0,784.2 2412.0,792.2 2399.3,797.0" fill="#FFFF00" stroke="#000" stroke-width="1" stroke-linejoin="round"/>
<rect x="2594.8" y="780.8" width="3.2" height="16.8" fill="#FFFF80" stroke="none" stroke-width="0"/>
<rect x="2564.8" y="782.2" width="5.8" height="1.8" fill="#5fa8a0" stroke="none" stroke-width="0"/>
<rect x="2556.8" y="781.9" width="8.8" height="2.5" fill="#FFFF00" stroke="#000" stroke-width="0.9"/>
<rect x="2564.8" y="786.2" width="5.8" height="1.8" fill="#5fa8a0" stroke="none" stroke-width="0"/>
<rect x="2556.8" y="785.9" width="8.8" height="2.5" fill="#FFFF00" stroke="#000" stroke-width="0.9"/>
<rect x="2564.8" y="790.2" width="5.8" height="1.8" fill="#5fa8a0" stroke="none" stroke-width="0"/>
<rect x="2556.8" y="789.9" width="8.8" height="2.5" fill="#FFFF00" stroke="#000" stroke-width="0.9"/>
<rect x="2564.8" y="794.2" width="5.8" height="1.8" fill="#5fa8a0" stroke="none" stroke-width="0"/>
<rect x="2556.8" y="793.9" width="8.8" height="2.5" fill="#FFFF00" stroke="#000" stroke-width="0.9"/>
<rect x="2570.6" y="778.5" width="24.2" height="21.2" fill="#FFFF00" stroke="#000" stroke-width="1"/>
<rect x="2539.8" y="778.8" width="17.3" height="20.8" fill="#FFFF00" stroke="#000" stroke-width="1"/>
<rect x="2532.8" y="780.4" width="7.0" height="17.4" fill="#FFFF00" stroke="#000" stroke-width="1"/>
<polygon points="2532.8,780.4 2520.1,785.1 2520.1,793.1 2532.8,797.9" fill="#FFFF00" stroke="#000" stroke-width="1" stroke-linejoin="round"/>
<polyline points="2399.9,788.9 2532.2,788.9" fill="none" stroke="#000" stroke-width="8" stroke-linecap="round" stroke-linejoin="round"/>
<rect x="2598.4" y="837.3" width="323.5" height="56.6" fill="#FFFF00" stroke="#222" stroke-width="1.3"/>
<text x="2700.6" y="873.2" font-size="23.8" fill="#000" font-weight="bold" text-anchor="start" font-family='"Liberation Sans","Noto Sans CJK SC",sans-serif' textLength="119.0" lengthAdjust="spacingAndGlyphs" >气相色谱仪</text>
<rect x="2334.1" y="857.8" width="3.2" height="16.8" fill="#FFFF80" stroke="none" stroke-width="0"/>
<rect x="2361.5" y="859.3" width="5.8" height="1.8" fill="#5fa8a0" stroke="none" stroke-width="0"/>
<rect x="2366.5" y="858.9" width="8.8" height="2.5" fill="#FFFF00" stroke="#000" stroke-width="0.9"/>
<rect x="2361.5" y="863.3" width="5.8" height="1.8" fill="#5fa8a0" stroke="none" stroke-width="0"/>
<rect x="2366.5" y="862.9" width="8.8" height="2.5" fill="#FFFF00" stroke="#000" stroke-width="0.9"/>
<rect x="2361.5" y="867.3" width="5.8" height="1.8" fill="#5fa8a0" stroke="none" stroke-width="0"/>
<rect x="2366.5" y="866.9" width="8.8" height="2.5" fill="#FFFF00" stroke="#000" stroke-width="0.9"/>
<rect x="2361.5" y="871.3" width="5.8" height="1.8" fill="#5fa8a0" stroke="none" stroke-width="0"/>
<rect x="2366.5" y="870.9" width="8.8" height="2.5" fill="#FFFF00" stroke="#000" stroke-width="0.9"/>
<rect x="2337.3" y="855.6" width="24.2" height="21.2" fill="#FFFF00" stroke="#000" stroke-width="1"/>
<rect x="2375.0" y="855.8" width="17.3" height="20.8" fill="#FFFF00" stroke="#000" stroke-width="1"/>
<rect x="2392.3" y="857.5" width="7.0" height="17.4" fill="#FFFF00" stroke="#000" stroke-width="1"/>
<polygon points="2399.3,857.5 2412.0,862.2 2412.0,870.2 2399.3,874.9" fill="#FFFF00" stroke="#000" stroke-width="1" stroke-linejoin="round"/>
<rect x="2594.8" y="858.7" width="3.2" height="16.8" fill="#FFFF80" stroke="none" stroke-width="0"/>
<rect x="2564.8" y="860.2" width="5.8" height="1.8" fill="#5fa8a0" stroke="none" stroke-width="0"/>
<rect x="2556.8" y="859.8" width="8.8" height="2.5" fill="#FFFF00" stroke="#000" stroke-width="0.9"/>
<rect x="2564.8" y="864.2" width="5.8" height="1.8" fill="#5fa8a0" stroke="none" stroke-width="0"/>
<rect x="2556.8" y="863.8" width="8.8" height="2.5" fill="#FFFF00" stroke="#000" stroke-width="0.9"/>
<rect x="2564.8" y="868.2" width="5.8" height="1.8" fill="#5fa8a0" stroke="none" stroke-width="0"/>
<rect x="2556.8" y="867.8" width="8.8" height="2.5" fill="#FFFF00" stroke="#000" stroke-width="0.9"/>
<rect x="2564.8" y="872.2" width="5.8" height="1.8" fill="#5fa8a0" stroke="none" stroke-width="0"/>
<rect x="2556.8" y="871.8" width="8.8" height="2.5" fill="#FFFF00" stroke="#000" stroke-width="0.9"/>
<rect x="2570.6" y="856.5" width="24.2" height="21.2" fill="#FFFF00" stroke="#000" stroke-width="1"/>
<rect x="2539.8" y="856.7" width="17.3" height="20.8" fill="#FFFF00" stroke="#000" stroke-width="1"/>
<rect x="2532.8" y="858.4" width="7.0" height="17.4" fill="#FFFF00" stroke="#000" stroke-width="1"/>
<polygon points="2532.8,858.4 2520.1,863.1 2520.1,871.1 2532.8,875.8" fill="#FFFF00" stroke="#000" stroke-width="1" stroke-linejoin="round"/>
<polyline points="2399.9,866.8 2532.2,866.8" fill="none" stroke="#000" stroke-width="8" stroke-linecap="round" stroke-linejoin="round"/>
<rect x="2598.4" y="914.4" width="323.5" height="56.7" fill="#FFFF00" stroke="#222" stroke-width="1.3"/>
<text x="2641.1" y="950.4" font-size="23.8" fill="#000" font-weight="bold" text-anchor="start" font-family='"Liberation Sans","Noto Sans CJK SC",sans-serif' textLength="238.0" lengthAdjust="spacingAndGlyphs" >二氧化碳同位素分析仪</text>
<rect x="2334.1" y="935.0" width="3.2" height="16.8" fill="#FFFF80" stroke="none" stroke-width="0"/>
<rect x="2361.5" y="936.5" width="5.8" height="1.8" fill="#5fa8a0" stroke="none" stroke-width="0"/>
<rect x="2366.5" y="936.1" width="8.8" height="2.5" fill="#FFFF00" stroke="#000" stroke-width="0.9"/>
<rect x="2361.5" y="940.5" width="5.8" height="1.8" fill="#5fa8a0" stroke="none" stroke-width="0"/>
<rect x="2366.5" y="940.1" width="8.8" height="2.5" fill="#FFFF00" stroke="#000" stroke-width="0.9"/>
<rect x="2361.5" y="944.5" width="5.8" height="1.8" fill="#5fa8a0" stroke="none" stroke-width="0"/>
<rect x="2366.5" y="944.1" width="8.8" height="2.5" fill="#FFFF00" stroke="#000" stroke-width="0.9"/>
<rect x="2361.5" y="948.5" width="5.8" height="1.8" fill="#5fa8a0" stroke="none" stroke-width="0"/>
<rect x="2366.5" y="948.1" width="8.8" height="2.5" fill="#FFFF00" stroke="#000" stroke-width="0.9"/>
<rect x="2337.3" y="932.8" width="24.2" height="21.2" fill="#FFFF00" stroke="#000" stroke-width="1"/>
<rect x="2375.0" y="933.0" width="17.3" height="20.8" fill="#FFFF00" stroke="#000" stroke-width="1"/>
<rect x="2392.3" y="934.6" width="7.0" height="17.4" fill="#FFFF00" stroke="#000" stroke-width="1"/>
<polygon points="2399.3,934.6 2412.0,939.4 2412.0,947.4 2399.3,952.1" fill="#FFFF00" stroke="#000" stroke-width="1" stroke-linejoin="round"/>
<rect x="2594.8" y="935.9" width="3.2" height="16.8" fill="#FFFF80" stroke="none" stroke-width="0"/>
<rect x="2564.8" y="937.4" width="5.8" height="1.8" fill="#5fa8a0" stroke="none" stroke-width="0"/>
<rect x="2556.8" y="937.0" width="8.8" height="2.5" fill="#FFFF00" stroke="#000" stroke-width="0.9"/>
<rect x="2564.8" y="941.4" width="5.8" height="1.8" fill="#5fa8a0" stroke="none" stroke-width="0"/>
<rect x="2556.8" y="941.0" width="8.8" height="2.5" fill="#FFFF00" stroke="#000" stroke-width="0.9"/>
<rect x="2564.8" y="945.4" width="5.8" height="1.8" fill="#5fa8a0" stroke="none" stroke-width="0"/>
<rect x="2556.8" y="945.0" width="8.8" height="2.5" fill="#FFFF00" stroke="#000" stroke-width="0.9"/>
<rect x="2564.8" y="949.4" width="5.8" height="1.8" fill="#5fa8a0" stroke="none" stroke-width="0"/>
<rect x="2556.8" y="949.0" width="8.8" height="2.5" fill="#FFFF00" stroke="#000" stroke-width="0.9"/>
<rect x="2570.6" y="933.6" width="24.2" height="21.2" fill="#FFFF00" stroke="#000" stroke-width="1"/>
<rect x="2539.8" y="933.9" width="17.3" height="20.8" fill="#FFFF00" stroke="#000" stroke-width="1"/>
<rect x="2532.8" y="935.5" width="7.0" height="17.4" fill="#FFFF00" stroke="#000" stroke-width="1"/>
<polygon points="2532.8,935.5 2520.1,940.2 2520.1,948.2 2532.8,953.0" fill="#FFFF00" stroke="#000" stroke-width="1" stroke-linejoin="round"/>
<polyline points="2399.9,944.0 2532.2,944.0" fill="none" stroke="#000" stroke-width="8" stroke-linecap="round" stroke-linejoin="round"/>
<rect x="2600.3" y="1000.2" width="323.5" height="56.7" fill="#FFFF00" stroke="#222" stroke-width="1.3"/>
<text transform="translate(2744.2,1036.2) scale(0.74,1)" x="8.0 24.1 40.2" y="0" font-size="23.8" fill="#000" font-weight="bold" text-anchor="middle" font-family='"Liberation Sans","Noto Sans CJK SC",sans-serif'>ICL</text>
<rect x="2336.0" y="1020.8" width="3.2" height="16.8" fill="#FFFF80" stroke="none" stroke-width="0"/>
<rect x="2363.4" y="1022.3" width="5.8" height="1.8" fill="#5fa8a0" stroke="none" stroke-width="0"/>
<rect x="2368.4" y="1021.9" width="8.8" height="2.5" fill="#FFFF00" stroke="#000" stroke-width="0.9"/>
<rect x="2363.4" y="1026.2" width="5.8" height="1.8" fill="#5fa8a0" stroke="none" stroke-width="0"/>
<rect x="2368.4" y="1025.9" width="8.8" height="2.5" fill="#FFFF00" stroke="#000" stroke-width="0.9"/>
<rect x="2363.4" y="1030.2" width="5.8" height="1.8" fill="#5fa8a0" stroke="none" stroke-width="0"/>
<rect x="2368.4" y="1029.9" width="8.8" height="2.5" fill="#FFFF00" stroke="#000" stroke-width="0.9"/>
<rect x="2363.4" y="1034.2" width="5.8" height="1.8" fill="#5fa8a0" stroke="none" stroke-width="0"/>
<rect x="2368.4" y="1033.9" width="8.8" height="2.5" fill="#FFFF00" stroke="#000" stroke-width="0.9"/>
<rect x="2339.2" y="1018.6" width="24.2" height="21.2" fill="#FFFF00" stroke="#000" stroke-width="1"/>
<rect x="2376.9" y="1018.8" width="17.3" height="20.8" fill="#FFFF00" stroke="#000" stroke-width="1"/>
<rect x="2394.2" y="1020.5" width="7.0" height="17.4" fill="#FFFF00" stroke="#000" stroke-width="1"/>
<polygon points="2401.2,1020.5 2413.9,1025.2 2413.9,1033.2 2401.2,1037.9" fill="#FFFF00" stroke="#000" stroke-width="1" stroke-linejoin="round"/>
<rect x="2596.7" y="1021.7" width="3.2" height="16.8" fill="#FFFF80" stroke="none" stroke-width="0"/>
<rect x="2566.7" y="1023.2" width="5.8" height="1.8" fill="#5fa8a0" stroke="none" stroke-width="0"/>
<rect x="2558.7" y="1022.8" width="8.8" height="2.5" fill="#FFFF00" stroke="#000" stroke-width="0.9"/>
<rect x="2566.7" y="1027.2" width="5.8" height="1.8" fill="#5fa8a0" stroke="none" stroke-width="0"/>
<rect x="2558.7" y="1026.8" width="8.8" height="2.5" fill="#FFFF00" stroke="#000" stroke-width="0.9"/>
<rect x="2566.7" y="1031.2" width="5.8" height="1.8" fill="#5fa8a0" stroke="none" stroke-width="0"/>
<rect x="2558.7" y="1030.8" width="8.8" height="2.5" fill="#FFFF00" stroke="#000" stroke-width="0.9"/>
<rect x="2566.7" y="1035.2" width="5.8" height="1.8" fill="#5fa8a0" stroke="none" stroke-width="0"/>
<rect x="2558.7" y="1034.8" width="8.8" height="2.5" fill="#FFFF00" stroke="#000" stroke-width="0.9"/>
<rect x="2572.5" y="1019.5" width="24.2" height="21.2" fill="#FFFF00" stroke="#000" stroke-width="1"/>
<rect x="2541.7" y="1019.7" width="17.3" height="20.8" fill="#FFFF00" stroke="#000" stroke-width="1"/>
<rect x="2534.7" y="1021.4" width="7.0" height="17.4" fill="#FFFF00" stroke="#000" stroke-width="1"/>
<polygon points="2534.7,1021.4 2522.0,1026.1 2522.0,1034.1 2534.7,1038.8" fill="#FFFF00" stroke="#000" stroke-width="1" stroke-linejoin="round"/>
<polyline points="2401.8,1029.8 2534.1,1029.8" fill="none" stroke="#000" stroke-width="8" stroke-linecap="round" stroke-linejoin="round"/>
<rect x="2598.4" y="1091.0" width="323.5" height="56.3" fill="#FFFF00" stroke="#222" stroke-width="1.3"/>
<text x="2676.8" y="1126.8" font-size="23.8" fill="#000" font-weight="bold" text-anchor="start" font-family='"Liberation Sans","Noto Sans CJK SC",sans-serif' textLength="166.6" lengthAdjust="spacingAndGlyphs" >显微拉曼分析仪</text>
<rect x="2334.1" y="1111.3" width="3.2" height="16.8" fill="#FFFF80" stroke="none" stroke-width="0"/>
<rect x="2361.5" y="1112.8" width="5.8" height="1.8" fill="#5fa8a0" stroke="none" stroke-width="0"/>
<rect x="2366.5" y="1112.5" width="8.8" height="2.5" fill="#FFFF00" stroke="#000" stroke-width="0.9"/>
<rect x="2361.5" y="1116.8" width="5.8" height="1.8" fill="#5fa8a0" stroke="none" stroke-width="0"/>
<rect x="2366.5" y="1116.5" width="8.8" height="2.5" fill="#FFFF00" stroke="#000" stroke-width="0.9"/>
<rect x="2361.5" y="1120.8" width="5.8" height="1.8" fill="#5fa8a0" stroke="none" stroke-width="0"/>
<rect x="2366.5" y="1120.5" width="8.8" height="2.5" fill="#FFFF00" stroke="#000" stroke-width="0.9"/>
<rect x="2361.5" y="1124.8" width="5.8" height="1.8" fill="#5fa8a0" stroke="none" stroke-width="0"/>
<rect x="2366.5" y="1124.5" width="8.8" height="2.5" fill="#FFFF00" stroke="#000" stroke-width="0.9"/>
<rect x="2337.3" y="1109.2" width="24.2" height="21.2" fill="#FFFF00" stroke="#000" stroke-width="1"/>
<rect x="2375.0" y="1109.3" width="17.3" height="20.8" fill="#FFFF00" stroke="#000" stroke-width="1"/>
<rect x="2392.3" y="1111.0" width="7.0" height="17.4" fill="#FFFF00" stroke="#000" stroke-width="1"/>
<polygon points="2399.3,1111.0 2412.0,1115.8 2412.0,1123.8 2399.3,1128.5" fill="#FFFF00" stroke="#000" stroke-width="1" stroke-linejoin="round"/>
<rect x="2594.8" y="1112.2" width="3.2" height="16.8" fill="#FFFF80" stroke="none" stroke-width="0"/>
<rect x="2564.8" y="1113.8" width="5.8" height="1.8" fill="#5fa8a0" stroke="none" stroke-width="0"/>
<rect x="2556.8" y="1113.4" width="8.8" height="2.5" fill="#FFFF00" stroke="#000" stroke-width="0.9"/>
<rect x="2564.8" y="1117.8" width="5.8" height="1.8" fill="#5fa8a0" stroke="none" stroke-width="0"/>
<rect x="2556.8" y="1117.4" width="8.8" height="2.5" fill="#FFFF00" stroke="#000" stroke-width="0.9"/>
<rect x="2564.8" y="1121.8" width="5.8" height="1.8" fill="#5fa8a0" stroke="none" stroke-width="0"/>
<rect x="2556.8" y="1121.4" width="8.8" height="2.5" fill="#FFFF00" stroke="#000" stroke-width="0.9"/>
<rect x="2564.8" y="1125.8" width="5.8" height="1.8" fill="#5fa8a0" stroke="none" stroke-width="0"/>
<rect x="2556.8" y="1125.4" width="8.8" height="2.5" fill="#FFFF00" stroke="#000" stroke-width="0.9"/>
<rect x="2570.6" y="1110.1" width="24.2" height="21.2" fill="#FFFF00" stroke="#000" stroke-width="1"/>
<rect x="2539.8" y="1110.2" width="17.3" height="20.8" fill="#FFFF00" stroke="#000" stroke-width="1"/>
<rect x="2532.8" y="1112.0" width="7.0" height="17.4" fill="#FFFF00" stroke="#000" stroke-width="1"/>
<polygon points="2532.8,1112.0 2520.1,1116.7 2520.1,1124.7 2532.8,1129.4" fill="#FFFF00" stroke="#000" stroke-width="1" stroke-linejoin="round"/>
<polyline points="2399.9,1120.3 2532.2,1120.3" fill="none" stroke="#000" stroke-width="8" stroke-linecap="round" stroke-linejoin="round"/>
<rect x="2598.4" y="1169.0" width="323.5" height="56.2" fill="#FFFF00" stroke="#222" stroke-width="1.3"/>
<text x="2724.4" y="1204.7" font-size="23.8" fill="#000" font-weight="bold" text-anchor="start" font-family='"Liberation Sans","Noto Sans CJK SC",sans-serif' textLength="71.4" lengthAdjust="spacingAndGlyphs" >质谱仪</text>
<rect x="2334.1" y="1189.3" width="3.2" height="16.8" fill="#FFFF80" stroke="none" stroke-width="0"/>
<rect x="2361.5" y="1190.8" width="5.8" height="1.8" fill="#5fa8a0" stroke="none" stroke-width="0"/>
<rect x="2366.5" y="1190.4" width="8.8" height="2.5" fill="#FFFF00" stroke="#000" stroke-width="0.9"/>
<rect x="2361.5" y="1194.8" width="5.8" height="1.8" fill="#5fa8a0" stroke="none" stroke-width="0"/>
<rect x="2366.5" y="1194.4" width="8.8" height="2.5" fill="#FFFF00" stroke="#000" stroke-width="0.9"/>
<rect x="2361.5" y="1198.8" width="5.8" height="1.8" fill="#5fa8a0" stroke="none" stroke-width="0"/>
<rect x="2366.5" y="1198.4" width="8.8" height="2.5" fill="#FFFF00" stroke="#000" stroke-width="0.9"/>
<rect x="2361.5" y="1202.8" width="5.8" height="1.8" fill="#5fa8a0" stroke="none" stroke-width="0"/>
<rect x="2366.5" y="1202.4" width="8.8" height="2.5" fill="#FFFF00" stroke="#000" stroke-width="0.9"/>
<rect x="2337.3" y="1187.1" width="24.2" height="21.2" fill="#FFFF00" stroke="#000" stroke-width="1"/>
<rect x="2375.0" y="1187.3" width="17.3" height="20.8" fill="#FFFF00" stroke="#000" stroke-width="1"/>
<rect x="2392.3" y="1189.0" width="7.0" height="17.4" fill="#FFFF00" stroke="#000" stroke-width="1"/>
<polygon points="2399.3,1189.0 2412.0,1193.7 2412.0,1201.7 2399.3,1206.4" fill="#FFFF00" stroke="#000" stroke-width="1" stroke-linejoin="round"/>
<rect x="2594.8" y="1190.2" width="3.2" height="16.8" fill="#FFFF80" stroke="none" stroke-width="0"/>
<rect x="2564.8" y="1191.7" width="5.8" height="1.8" fill="#5fa8a0" stroke="none" stroke-width="0"/>
<rect x="2556.8" y="1191.3" width="8.8" height="2.5" fill="#FFFF00" stroke="#000" stroke-width="0.9"/>
<rect x="2564.8" y="1195.7" width="5.8" height="1.8" fill="#5fa8a0" stroke="none" stroke-width="0"/>
<rect x="2556.8" y="1195.3" width="8.8" height="2.5" fill="#FFFF00" stroke="#000" stroke-width="0.9"/>
<rect x="2564.8" y="1199.7" width="5.8" height="1.8" fill="#5fa8a0" stroke="none" stroke-width="0"/>
<rect x="2556.8" y="1199.3" width="8.8" height="2.5" fill="#FFFF00" stroke="#000" stroke-width="0.9"/>
<rect x="2564.8" y="1203.7" width="5.8" height="1.8" fill="#5fa8a0" stroke="none" stroke-width="0"/>
<rect x="2556.8" y="1203.3" width="8.8" height="2.5" fill="#FFFF00" stroke="#000" stroke-width="0.9"/>
<rect x="2570.6" y="1188.0" width="24.2" height="21.2" fill="#FFFF00" stroke="#000" stroke-width="1"/>
<rect x="2539.8" y="1188.2" width="17.3" height="20.8" fill="#FFFF00" stroke="#000" stroke-width="1"/>
<rect x="2532.8" y="1189.9" width="7.0" height="17.4" fill="#FFFF00" stroke="#000" stroke-width="1"/>
<polygon points="2532.8,1189.9 2520.1,1194.6 2520.1,1202.6 2532.8,1207.3" fill="#FFFF00" stroke="#000" stroke-width="1" stroke-linejoin="round"/>
<polyline points="2399.9,1198.3 2532.2,1198.3" fill="none" stroke="#000" stroke-width="8" stroke-linecap="round" stroke-linejoin="round"/>
<rect x="2598.4" y="1246.9" width="323.5" height="56.2" fill="#FFFF00" stroke="#222" stroke-width="1.3"/>
<text x="2712.5" y="1282.6" font-size="23.8" fill="#000" font-weight="bold" text-anchor="start" font-family='"Liberation Sans","Noto Sans CJK SC",sans-serif' textLength="95.2" lengthAdjust="spacingAndGlyphs" >声学定位</text>
<rect x="2334.1" y="1267.2" width="3.2" height="16.8" fill="#FFFF80" stroke="none" stroke-width="0"/>
<rect x="2361.5" y="1268.7" width="5.8" height="1.8" fill="#5fa8a0" stroke="none" stroke-width="0"/>
<rect x="2366.5" y="1268.3" width="8.8" height="2.5" fill="#FFFF00" stroke="#000" stroke-width="0.9"/>
<rect x="2361.5" y="1272.7" width="5.8" height="1.8" fill="#5fa8a0" stroke="none" stroke-width="0"/>
<rect x="2366.5" y="1272.3" width="8.8" height="2.5" fill="#FFFF00" stroke="#000" stroke-width="0.9"/>
<rect x="2361.5" y="1276.7" width="5.8" height="1.8" fill="#5fa8a0" stroke="none" stroke-width="0"/>
<rect x="2366.5" y="1276.3" width="8.8" height="2.5" fill="#FFFF00" stroke="#000" stroke-width="0.9"/>
<rect x="2361.5" y="1280.7" width="5.8" height="1.8" fill="#5fa8a0" stroke="none" stroke-width="0"/>
<rect x="2366.5" y="1280.3" width="8.8" height="2.5" fill="#FFFF00" stroke="#000" stroke-width="0.9"/>
<rect x="2337.3" y="1265.0" width="24.2" height="21.2" fill="#FFFF00" stroke="#000" stroke-width="1"/>
<rect x="2375.0" y="1265.2" width="17.3" height="20.8" fill="#FFFF00" stroke="#000" stroke-width="1"/>
<rect x="2392.3" y="1266.9" width="7.0" height="17.4" fill="#FFFF00" stroke="#000" stroke-width="1"/>
<polygon points="2399.3,1266.9 2412.0,1271.6 2412.0,1279.6 2399.3,1284.3" fill="#FFFF00" stroke="#000" stroke-width="1" stroke-linejoin="round"/>
<rect x="2594.8" y="1268.1" width="3.2" height="16.8" fill="#FFFF80" stroke="none" stroke-width="0"/>
<rect x="2564.8" y="1269.6" width="5.8" height="1.8" fill="#5fa8a0" stroke="none" stroke-width="0"/>
<rect x="2556.8" y="1269.2" width="8.8" height="2.5" fill="#FFFF00" stroke="#000" stroke-width="0.9"/>
<rect x="2564.8" y="1273.6" width="5.8" height="1.8" fill="#5fa8a0" stroke="none" stroke-width="0"/>
<rect x="2556.8" y="1273.2" width="8.8" height="2.5" fill="#FFFF00" stroke="#000" stroke-width="0.9"/>
<rect x="2564.8" y="1277.6" width="5.8" height="1.8" fill="#5fa8a0" stroke="none" stroke-width="0"/>
<rect x="2556.8" y="1277.2" width="8.8" height="2.5" fill="#FFFF00" stroke="#000" stroke-width="0.9"/>
<rect x="2564.8" y="1281.6" width="5.8" height="1.8" fill="#5fa8a0" stroke="none" stroke-width="0"/>
<rect x="2556.8" y="1281.2" width="8.8" height="2.5" fill="#FFFF00" stroke="#000" stroke-width="0.9"/>
<rect x="2570.6" y="1265.9" width="24.2" height="21.2" fill="#FFFF00" stroke="#000" stroke-width="1"/>
<rect x="2539.8" y="1266.1" width="17.3" height="20.8" fill="#FFFF00" stroke="#000" stroke-width="1"/>
<rect x="2532.8" y="1267.8" width="7.0" height="17.4" fill="#FFFF00" stroke="#000" stroke-width="1"/>
<polygon points="2532.8,1267.8 2520.1,1272.5 2520.1,1280.5 2532.8,1285.2" fill="#FFFF00" stroke="#000" stroke-width="1" stroke-linejoin="round"/>
<polyline points="2399.9,1276.2 2532.2,1276.2" fill="none" stroke="#000" stroke-width="8" stroke-linecap="round" stroke-linejoin="round"/>
<rect x="2598.4" y="1325.2" width="323.5" height="55.9" fill="#FFFF00" stroke="#222" stroke-width="1.3"/>
<text x="2712.5" y="1360.8" font-size="23.8" fill="#000" font-weight="bold" text-anchor="start" font-family='"Liberation Sans","Noto Sans CJK SC",sans-serif' textLength="95.2" lengthAdjust="spacingAndGlyphs" >备用网口</text>
<rect x="2334.1" y="1345.3" width="3.2" height="16.8" fill="#FFFF80" stroke="none" stroke-width="0"/>
<rect x="2361.5" y="1346.8" width="5.8" height="1.8" fill="#5fa8a0" stroke="none" stroke-width="0"/>
<rect x="2366.5" y="1346.5" width="8.8" height="2.5" fill="#FFFF00" stroke="#000" stroke-width="0.9"/>
<rect x="2361.5" y="1350.8" width="5.8" height="1.8" fill="#5fa8a0" stroke="none" stroke-width="0"/>
<rect x="2366.5" y="1350.5" width="8.8" height="2.5" fill="#FFFF00" stroke="#000" stroke-width="0.9"/>
<rect x="2361.5" y="1354.8" width="5.8" height="1.8" fill="#5fa8a0" stroke="none" stroke-width="0"/>
<rect x="2366.5" y="1354.5" width="8.8" height="2.5" fill="#FFFF00" stroke="#000" stroke-width="0.9"/>
<rect x="2361.5" y="1358.8" width="5.8" height="1.8" fill="#5fa8a0" stroke="none" stroke-width="0"/>
<rect x="2366.5" y="1358.5" width="8.8" height="2.5" fill="#FFFF00" stroke="#000" stroke-width="0.9"/>
<rect x="2337.3" y="1343.2" width="24.2" height="21.2" fill="#FFFF00" stroke="#000" stroke-width="1"/>
<rect x="2375.0" y="1343.3" width="17.3" height="20.8" fill="#FFFF00" stroke="#000" stroke-width="1"/>
<rect x="2392.3" y="1345.0" width="7.0" height="17.4" fill="#FFFF00" stroke="#000" stroke-width="1"/>
<polygon points="2399.3,1345.0 2412.0,1349.8 2412.0,1357.8 2399.3,1362.5" fill="#FFFF00" stroke="#000" stroke-width="1" stroke-linejoin="round"/>
<rect x="2594.8" y="1346.2" width="3.2" height="16.8" fill="#FFFF80" stroke="none" stroke-width="0"/>
<rect x="2564.8" y="1347.8" width="5.8" height="1.8" fill="#5fa8a0" stroke="none" stroke-width="0"/>
<rect x="2556.8" y="1347.4" width="8.8" height="2.5" fill="#FFFF00" stroke="#000" stroke-width="0.9"/>
<rect x="2564.8" y="1351.8" width="5.8" height="1.8" fill="#5fa8a0" stroke="none" stroke-width="0"/>
<rect x="2556.8" y="1351.4" width="8.8" height="2.5" fill="#FFFF00" stroke="#000" stroke-width="0.9"/>
<rect x="2564.8" y="1355.8" width="5.8" height="1.8" fill="#5fa8a0" stroke="none" stroke-width="0"/>
<rect x="2556.8" y="1355.4" width="8.8" height="2.5" fill="#FFFF00" stroke="#000" stroke-width="0.9"/>
<rect x="2564.8" y="1359.8" width="5.8" height="1.8" fill="#5fa8a0" stroke="none" stroke-width="0"/>
<rect x="2556.8" y="1359.4" width="8.8" height="2.5" fill="#FFFF00" stroke="#000" stroke-width="0.9"/>
<rect x="2570.6" y="1344.1" width="24.2" height="21.2" fill="#FFFF00" stroke="#000" stroke-width="1"/>
<rect x="2539.8" y="1344.2" width="17.3" height="20.8" fill="#FFFF00" stroke="#000" stroke-width="1"/>
<rect x="2532.8" y="1346.0" width="7.0" height="17.4" fill="#FFFF00" stroke="#000" stroke-width="1"/>
<polygon points="2532.8,1346.0 2520.1,1350.7 2520.1,1358.7 2532.8,1363.4" fill="#FFFF00" stroke="#000" stroke-width="1" stroke-linejoin="round"/>
<polyline points="2399.9,1354.3 2532.2,1354.3" fill="none" stroke="#000" stroke-width="8" stroke-linecap="round" stroke-linejoin="round"/>
<rect x="2599.9" y="1402.7" width="323.5" height="56.3" fill="#FFFF00" stroke="#222" stroke-width="1.3"/>
<text x="2731.8" y="1438.4" font-size="23.8" fill="#000" font-weight="bold" text-anchor="start" font-family='"Liberation Sans","Noto Sans CJK SC",sans-serif' textLength="47.6" lengthAdjust="spacingAndGlyphs" >摄像</text>
<text transform="translate(2779.4,1438.4) scale(0.74,1)" x="8.0" y="0" font-size="23.8" fill="#000" font-weight="bold" text-anchor="middle" font-family='"Liberation Sans","Noto Sans CJK SC",sans-serif'>2</text>
<rect x="2335.6" y="1423.0" width="3.2" height="16.8" fill="#FFFF80" stroke="none" stroke-width="0"/>
<rect x="2363.0" y="1424.5" width="5.8" height="1.8" fill="#5fa8a0" stroke="none" stroke-width="0"/>
<rect x="2368.0" y="1424.2" width="8.8" height="2.5" fill="#FFFF00" stroke="#000" stroke-width="0.9"/>
<rect x="2363.0" y="1428.5" width="5.8" height="1.8" fill="#5fa8a0" stroke="none" stroke-width="0"/>
<rect x="2368.0" y="1428.2" width="8.8" height="2.5" fill="#FFFF00" stroke="#000" stroke-width="0.9"/>
<rect x="2363.0" y="1432.5" width="5.8" height="1.8" fill="#5fa8a0" stroke="none" stroke-width="0"/>
<rect x="2368.0" y="1432.2" width="8.8" height="2.5" fill="#FFFF00" stroke="#000" stroke-width="0.9"/>
<rect x="2363.0" y="1436.5" width="5.8" height="1.8" fill="#5fa8a0" stroke="none" stroke-width="0"/>
<rect x="2368.0" y="1436.2" width="8.8" height="2.5" fill="#FFFF00" stroke="#000" stroke-width="0.9"/>
<rect x="2338.8" y="1420.8" width="24.2" height="21.2" fill="#FFFF00" stroke="#000" stroke-width="1"/>
<rect x="2376.5" y="1421.0" width="17.3" height="20.8" fill="#FFFF00" stroke="#000" stroke-width="1"/>
<rect x="2393.8" y="1422.7" width="7.0" height="17.4" fill="#FFFF00" stroke="#000" stroke-width="1"/>
<polygon points="2400.8,1422.7 2413.5,1427.4 2413.5,1435.4 2400.8,1440.1" fill="#FFFF00" stroke="#000" stroke-width="1" stroke-linejoin="round"/>
<rect x="2596.3" y="1423.9" width="3.2" height="16.8" fill="#FFFF80" stroke="none" stroke-width="0"/>
<rect x="2566.3" y="1425.4" width="5.8" height="1.8" fill="#5fa8a0" stroke="none" stroke-width="0"/>
<rect x="2558.3" y="1425.1" width="8.8" height="2.5" fill="#FFFF00" stroke="#000" stroke-width="0.9"/>
<rect x="2566.3" y="1429.4" width="5.8" height="1.8" fill="#5fa8a0" stroke="none" stroke-width="0"/>
<rect x="2558.3" y="1429.1" width="8.8" height="2.5" fill="#FFFF00" stroke="#000" stroke-width="0.9"/>
<rect x="2566.3" y="1433.4" width="5.8" height="1.8" fill="#5fa8a0" stroke="none" stroke-width="0"/>
<rect x="2558.3" y="1433.1" width="8.8" height="2.5" fill="#FFFF00" stroke="#000" stroke-width="0.9"/>
<rect x="2566.3" y="1437.4" width="5.8" height="1.8" fill="#5fa8a0" stroke="none" stroke-width="0"/>
<rect x="2558.3" y="1437.1" width="8.8" height="2.5" fill="#FFFF00" stroke="#000" stroke-width="0.9"/>
<rect x="2572.1" y="1421.8" width="24.2" height="21.2" fill="#FFFF00" stroke="#000" stroke-width="1"/>
<rect x="2541.3" y="1421.9" width="17.3" height="20.8" fill="#FFFF00" stroke="#000" stroke-width="1"/>
<rect x="2534.3" y="1423.6" width="7.0" height="17.4" fill="#FFFF00" stroke="#000" stroke-width="1"/>
<polygon points="2534.3,1423.6 2521.6,1428.3 2521.6,1436.3 2534.3,1441.0" fill="#FFFF00" stroke="#000" stroke-width="1" stroke-linejoin="round"/>
<polyline points="2401.4,1432.0 2533.7,1432.0" fill="none" stroke="#000" stroke-width="8" stroke-linecap="round" stroke-linejoin="round"/>
<rect x="1.6" y="744.9" width="323.4" height="56.6" fill="#FFFF00" stroke="#222" stroke-width="1.3"/>
<text x="163.3" y="780.8" font-size="23.8" fill="#000" font-weight="bold" text-anchor="middle" font-family='"Liberation Sans","Noto Sans CJK SC",sans-serif' >电池</text>
<rect x="324.6" y="764.2" width="3.2" height="16.8" fill="#FFFF80" stroke="none" stroke-width="0"/>
<rect x="352.0" y="765.7" width="5.8" height="1.8" fill="#5fa8a0" stroke="none" stroke-width="0"/>
<rect x="357.0" y="765.4" width="8.8" height="2.5" fill="#FFFF00" stroke="#000" stroke-width="0.9"/>
<rect x="352.0" y="769.7" width="5.8" height="1.8" fill="#5fa8a0" stroke="none" stroke-width="0"/>
<rect x="357.0" y="769.4" width="8.8" height="2.5" fill="#FFFF00" stroke="#000" stroke-width="0.9"/>
<rect x="352.0" y="773.7" width="5.8" height="1.8" fill="#5fa8a0" stroke="none" stroke-width="0"/>
<rect x="357.0" y="773.4" width="8.8" height="2.5" fill="#FFFF00" stroke="#000" stroke-width="0.9"/>
<rect x="352.0" y="777.7" width="5.8" height="1.8" fill="#5fa8a0" stroke="none" stroke-width="0"/>
<rect x="357.0" y="777.4" width="8.8" height="2.5" fill="#FFFF00" stroke="#000" stroke-width="0.9"/>
<rect x="327.8" y="762.0" width="24.2" height="21.2" fill="#FFFF00" stroke="#000" stroke-width="1"/>
<rect x="365.5" y="762.2" width="17.3" height="20.8" fill="#FFFF00" stroke="#000" stroke-width="1"/>
<rect x="382.8" y="763.9" width="7.0" height="17.4" fill="#FFFF00" stroke="#000" stroke-width="1"/>
<polygon points="389.8,763.9 402.5,768.6 402.5,776.6 389.8,781.3" fill="#FFFF00" stroke="#000" stroke-width="1" stroke-linejoin="round"/>
<rect x="584.4" y="765.1" width="3.2" height="16.8" fill="#FFFF80" stroke="none" stroke-width="0"/>
<rect x="554.4" y="766.6" width="5.8" height="1.8" fill="#5fa8a0" stroke="none" stroke-width="0"/>
<rect x="546.4" y="766.2" width="8.8" height="2.5" fill="#FFFF00" stroke="#000" stroke-width="0.9"/>
<rect x="554.4" y="770.6" width="5.8" height="1.8" fill="#5fa8a0" stroke="none" stroke-width="0"/>
<rect x="546.4" y="770.2" width="8.8" height="2.5" fill="#FFFF00" stroke="#000" stroke-width="0.9"/>
<rect x="554.4" y="774.6" width="5.8" height="1.8" fill="#5fa8a0" stroke="none" stroke-width="0"/>
<rect x="546.4" y="774.2" width="8.8" height="2.5" fill="#FFFF00" stroke="#000" stroke-width="0.9"/>
<rect x="554.4" y="778.6" width="5.8" height="1.8" fill="#5fa8a0" stroke="none" stroke-width="0"/>
<rect x="546.4" y="778.2" width="8.8" height="2.5" fill="#FFFF00" stroke="#000" stroke-width="0.9"/>
<rect x="560.2" y="762.9" width="24.2" height="21.2" fill="#FFFF00" stroke="#000" stroke-width="1"/>
<rect x="529.4" y="763.1" width="17.3" height="20.8" fill="#FFFF00" stroke="#000" stroke-width="1"/>
<rect x="522.4" y="764.8" width="7.0" height="17.4" fill="#FFFF00" stroke="#000" stroke-width="1"/>
<polygon points="522.4,764.8 509.7,769.5 509.7,777.5 522.4,782.2" fill="#FFFF00" stroke="#000" stroke-width="1" stroke-linejoin="round"/>
<polyline points="390.4,773.2 521.8,773.2" fill="none" stroke="#000" stroke-width="8" stroke-linecap="round" stroke-linejoin="round"/>
<rect x="1.6" y="833.4" width="323.4" height="56.7" fill="#FFFF00" stroke="#222" stroke-width="1.3"/>
<text x="163.3" y="869.4" font-size="23.8" fill="#000" font-weight="bold" text-anchor="middle" font-family='"Liberation Sans","Noto Sans CJK SC",sans-serif' >基站电能</text>
<rect x="324.6" y="852.8" width="3.2" height="16.8" fill="#FFFF80" stroke="none" stroke-width="0"/>
<rect x="352.0" y="854.2" width="5.8" height="1.8" fill="#5fa8a0" stroke="none" stroke-width="0"/>
<rect x="357.0" y="853.9" width="8.8" height="2.5" fill="#FFFF00" stroke="#000" stroke-width="0.9"/>
<rect x="352.0" y="858.2" width="5.8" height="1.8" fill="#5fa8a0" stroke="none" stroke-width="0"/>
<rect x="357.0" y="857.9" width="8.8" height="2.5" fill="#FFFF00" stroke="#000" stroke-width="0.9"/>
<rect x="352.0" y="862.2" width="5.8" height="1.8" fill="#5fa8a0" stroke="none" stroke-width="0"/>
<rect x="357.0" y="861.9" width="8.8" height="2.5" fill="#FFFF00" stroke="#000" stroke-width="0.9"/>
<rect x="352.0" y="866.2" width="5.8" height="1.8" fill="#5fa8a0" stroke="none" stroke-width="0"/>
<rect x="357.0" y="865.9" width="8.8" height="2.5" fill="#FFFF00" stroke="#000" stroke-width="0.9"/>
<rect x="327.8" y="850.5" width="24.2" height="21.2" fill="#FFFF00" stroke="#000" stroke-width="1"/>
<rect x="365.5" y="850.8" width="17.3" height="20.8" fill="#FFFF00" stroke="#000" stroke-width="1"/>
<rect x="382.8" y="852.4" width="7.0" height="17.4" fill="#FFFF00" stroke="#000" stroke-width="1"/>
<polygon points="389.8,852.4 402.5,857.1 402.5,865.1 389.8,869.9" fill="#FFFF00" stroke="#000" stroke-width="1" stroke-linejoin="round"/>
<rect x="584.4" y="853.6" width="3.2" height="16.8" fill="#FFFF80" stroke="none" stroke-width="0"/>
<rect x="554.4" y="855.1" width="5.8" height="1.8" fill="#5fa8a0" stroke="none" stroke-width="0"/>
<rect x="546.4" y="854.8" width="8.8" height="2.5" fill="#FFFF00" stroke="#000" stroke-width="0.9"/>
<rect x="554.4" y="859.1" width="5.8" height="1.8" fill="#5fa8a0" stroke="none" stroke-width="0"/>
<rect x="546.4" y="858.8" width="8.8" height="2.5" fill="#FFFF00" stroke="#000" stroke-width="0.9"/>
<rect x="554.4" y="863.1" width="5.8" height="1.8" fill="#5fa8a0" stroke="none" stroke-width="0"/>
<rect x="546.4" y="862.8" width="8.8" height="2.5" fill="#FFFF00" stroke="#000" stroke-width="0.9"/>
<rect x="554.4" y="867.1" width="5.8" height="1.8" fill="#5fa8a0" stroke="none" stroke-width="0"/>
<rect x="546.4" y="866.8" width="8.8" height="2.5" fill="#FFFF00" stroke="#000" stroke-width="0.9"/>
<rect x="560.2" y="851.4" width="24.2" height="21.2" fill="#FFFF00" stroke="#000" stroke-width="1"/>
<rect x="529.4" y="851.6" width="17.3" height="20.8" fill="#FFFF00" stroke="#000" stroke-width="1"/>
<rect x="522.4" y="853.3" width="7.0" height="17.4" fill="#FFFF00" stroke="#000" stroke-width="1"/>
<polygon points="522.4,853.3 509.7,858.0 509.7,866.0 522.4,870.8" fill="#FFFF00" stroke="#000" stroke-width="1" stroke-linejoin="round"/>
<polyline points="390.4,861.8 521.8,861.8" fill="none" stroke="#000" stroke-width="8" stroke-linecap="round" stroke-linejoin="round"/>
<rect x="804.0" y="766.9" width="174.7" height="118.1" fill="#FF0000" stroke="#000" stroke-width="1.2"/>
<text x="891.4" y="837.4" font-size="40" fill="#000" font-weight="500" text-anchor="middle" font-family='"Liberation Sans","Noto Sans CJK SC",sans-serif' textLength="160.0" lengthAdjust="spacingAndGlyphs" >电能切换</text>
<rect x="1238.0" y="43.3" width="265.3" height="118.1" fill="#FF0000" stroke="#000" stroke-width="1.2"/>
<text x="1369.7" y="114.1" font-size="41" fill="#000" font-weight="500" text-anchor="middle" font-family='"Liberation Sans","Noto Sans CJK SC",sans-serif' textLength="219.0" lengthAdjust="spacingAndGlyphs" >电能转换板1</text>
<rect x="1238.0" y="256.2" width="265.3" height="118.1" fill="#FF0000" stroke="#000" stroke-width="1.2"/>
<text x="1370.7" y="327.0" font-size="41" fill="#000" font-weight="500" text-anchor="middle" font-family='"Liberation Sans","Noto Sans CJK SC",sans-serif' textLength="221.0" lengthAdjust="spacingAndGlyphs" >电能转换板2</text>
<rect x="1238.0" y="499.6" width="265.3" height="117.6" fill="#0070C0" stroke="#000" stroke-width="1.2"/>
<text x="1370.7" y="547.7" font-size="41" fill="#000" font-weight="500" text-anchor="middle" font-family='"Liberation Sans","Noto Sans CJK SC",sans-serif' textLength="242.0" lengthAdjust="spacingAndGlyphs" >低功耗控制板</text>
<text x="1370.7" y="594.7" font-size="41" fill="#000" font-weight="500" text-anchor="middle" font-family='"Liberation Sans","Noto Sans CJK SC",sans-serif' >1</text>
<rect x="1238.0" y="742.4" width="265.3" height="117.6" fill="#FFC000" stroke="#000" stroke-width="1.2"/>
<text transform="translate(1260.7,790.0) scale(0.92,1)" x="10.9 32.6 54.3 76.1 97.8" y="0" font-size="40" fill="#000" font-weight="normal" text-anchor="middle" font-family='"Liberation Sans","Noto Sans CJK SC",sans-serif'>Linux</text>
<text x="1360.7" y="790.0" font-size="40" fill="#000" font-weight="500" text-anchor="start" font-family='"Liberation Sans","Noto Sans CJK SC",sans-serif' textLength="120.0" lengthAdjust="spacingAndGlyphs" >操作系</text>
<text x="1370.7" y="837.0" font-size="41" fill="#000" font-weight="500" text-anchor="middle" font-family='"Liberation Sans","Noto Sans CJK SC",sans-serif' textLength="80.0" lengthAdjust="spacingAndGlyphs" >统板</text>
<rect x="1238.0" y="985.0" width="265.3" height="118.5" fill="#0070C0" stroke="#000" stroke-width="1.2"/>
<text x="1370.7" y="1033.5" font-size="41" fill="#000" font-weight="500" text-anchor="middle" font-family='"Liberation Sans","Noto Sans CJK SC",sans-serif' textLength="242.0" lengthAdjust="spacingAndGlyphs" >低功耗控制板</text>
<text x="1370.7" y="1078.5" font-size="41" fill="#000" font-weight="500" text-anchor="middle" font-family='"Liberation Sans","Noto Sans CJK SC",sans-serif' >2</text>
<rect x="1238.0" y="1228.2" width="265.3" height="118.1" fill="#FF0000" stroke="#000" stroke-width="1.2"/>
<text x="1370.7" y="1299.0" font-size="41" fill="#000" font-weight="500" text-anchor="middle" font-family='"Liberation Sans","Noto Sans CJK SC",sans-serif' textLength="221.0" lengthAdjust="spacingAndGlyphs" >电能转换板3</text>
<rect x="1238.0" y="1471.1" width="265.3" height="118.1" fill="#FF0000" stroke="#000" stroke-width="1.2"/>
<text x="1370.7" y="1541.9" font-size="41" fill="#000" font-weight="500" text-anchor="middle" font-family='"Liberation Sans","Noto Sans CJK SC",sans-serif' textLength="221.0" lengthAdjust="spacingAndGlyphs" >电能转换板4</text>
<rect x="1805.2" y="256.2" width="265.4" height="118.1" fill="#00B050" stroke="#000" stroke-width="1.2"/>
<text x="1936.9" y="327.6" font-size="40" fill="#000" font-weight="500" text-anchor="middle" font-family='"Liberation Sans","Noto Sans CJK SC",sans-serif' textLength="138.0" lengthAdjust="spacingAndGlyphs" >接驳板1</text>
<rect x="1805.2" y="525.5" width="265.4" height="118.1" fill="#00B0F0" stroke="#000" stroke-width="1.2"/>
<text x="1937.9" y="574.8" font-size="41" fill="#000" font-weight="500" text-anchor="middle" font-family='"Liberation Sans","Noto Sans CJK SC",sans-serif' textLength="178.0" lengthAdjust="spacingAndGlyphs" >电交换机1</text>
<text x="1937.9" y="621.8" font-size="41" fill="#000" font-weight="500" text-anchor="middle" font-family='"Liberation Sans","Noto Sans CJK SC",sans-serif' >（8口）</text>
<rect x="1805.2" y="832.5" width="265.4" height="118.1" fill="#00B050" stroke="#000" stroke-width="1.2"/>
<text x="1937.9" y="905.6" font-size="40" fill="#000" font-weight="500" text-anchor="middle" font-family='"Liberation Sans","Noto Sans CJK SC",sans-serif' textLength="140.0" lengthAdjust="spacingAndGlyphs" >接驳板2</text>
<rect x="1805.2" y="1228.2" width="265.4" height="118.2" fill="#00B050" stroke="#000" stroke-width="1.2"/>
<text x="1937.9" y="1299.7" font-size="40" fill="#000" font-weight="500" text-anchor="middle" font-family='"Liberation Sans","Noto Sans CJK SC",sans-serif' textLength="140.0" lengthAdjust="spacingAndGlyphs" >接驳板3</text>
<rect x="1804.3" y="1481.0" width="265.1" height="118.1" fill="#00B0F0" stroke="#000" stroke-width="1.2"/>
<text x="1936.8" y="1530.3" font-size="41" fill="#000" font-weight="500" text-anchor="middle" font-family='"Liberation Sans","Noto Sans CJK SC",sans-serif' textLength="180.0" lengthAdjust="spacingAndGlyphs" >电交换机2</text>
<text x="1936.8" y="1577.3" font-size="41" fill="#000" font-weight="500" text-anchor="middle" font-family='"Liberation Sans","Noto Sans CJK SC",sans-serif' >（16口）</text>
<polyline points="586.4,768.0 616.0,768.0 616.0,734.6 640.7,734.6" fill="none" stroke="#00B050" stroke-width="3.5" stroke-linecap="round" stroke-linejoin="round"/>
<polygon points="640.7,735.0 653.7,720.8 699.8,720.8 699.8,749.2 653.7,749.2" fill="#fff" stroke="#00B050" stroke-width="3.8" stroke-linejoin="round"/>
<text x="673.8" y="740.8" font-size="16.5" fill="#00B050" font-weight="bold" text-anchor="middle" font-family='"Liberation Sans","Noto Sans CJK SC",sans-serif' textLength="33.0" lengthAdjust="spacingAndGlyphs" filter="url(#sh)" stroke="#00B050" stroke-width="0.5">CAN</text>
<polyline points="586.4,866.5 616.0,866.5 616.0,900.3 640.7,900.3" fill="none" stroke="#00B0F0" stroke-width="3.5" stroke-linecap="round" stroke-linejoin="round"/>
<polygon points="640.7,900.3 653.7,886.1 699.8,886.1 699.8,914.5 653.7,914.5" fill="#fff" stroke="#00B0F0" stroke-width="3.8" stroke-linejoin="round"/>
<text x="673.8" y="906.1" font-size="16.5" fill="#00B0F0" font-weight="bold" text-anchor="middle" font-family='"Liberation Sans","Noto Sans CJK SC",sans-serif' textLength="34.5" lengthAdjust="spacingAndGlyphs" filter="url(#sh)" stroke="#00B0F0" stroke-width="0.5">RJ45</text>
<polyline points="587.0,778.0 729.2,779.6 729.2,858.4 587.0,857.0" fill="none" stroke="#FF0000" stroke-width="6" stroke-linecap="round" stroke-linejoin="round"/>
<polyline points="729.2,825.4 779.0,825.4" fill="none" stroke="#FF0000" stroke-width="6" stroke-linecap="butt" stroke-linejoin="round"/>
<polygon points="804.0,825.4 777.0,834.6 777.0,816.2" fill="#FF0000" stroke="none" stroke-width="0" stroke-linejoin="round"/>
<polyline points="978.7,825.8 1039.5,825.8" fill="none" stroke="#FF0000" stroke-width="6" stroke-linecap="butt" stroke-linejoin="round"/>
<polyline points="1039.5,100.1 1039.5,1527.4" fill="none" stroke="#FF0000" stroke-width="6" stroke-linecap="round" stroke-linejoin="round"/>
<polyline points="1037.0,100.1 1213.0,100.1" fill="none" stroke="#FF0000" stroke-width="6" stroke-linecap="butt" stroke-linejoin="round"/>
<polygon points="1238.0,100.1 1211.0,109.3 1211.0,90.9" fill="#FF0000" stroke="none" stroke-width="0" stroke-linejoin="round"/>
<ellipse cx="1078.9" cy="100.1" rx="23.2" ry="11.2" fill="#7030A0"/>
<polyline points="1037.0,314.8 1213.0,314.8" fill="none" stroke="#FF0000" stroke-width="6" stroke-linecap="butt" stroke-linejoin="round"/>
<polygon points="1238.0,314.8 1211.0,324.0 1211.0,305.6" fill="#FF0000" stroke="none" stroke-width="0" stroke-linejoin="round"/>
<ellipse cx="1081.1" cy="314.8" rx="23.2" ry="11.2" fill="#7030A0"/>
<polyline points="1037.0,1286.8 1213.0,1286.8" fill="none" stroke="#FF0000" stroke-width="6" stroke-linecap="butt" stroke-linejoin="round"/>
<polygon points="1238.0,1286.8 1211.0,1296.0 1211.0,1277.6" fill="#FF0000" stroke="none" stroke-width="0" stroke-linejoin="round"/>
<ellipse cx="1089.3" cy="1286.8" rx="23.2" ry="11.2" fill="#7030A0"/>
<polyline points="1037.0,1527.4 1213.0,1529.2" fill="none" stroke="#FF0000" stroke-width="6" stroke-linecap="butt" stroke-linejoin="round"/>
<polygon points="1238.0,1529.4 1210.9,1538.3 1211.1,1519.9" fill="#FF0000" stroke="none" stroke-width="0" stroke-linejoin="round"/>
<ellipse cx="1086.6" cy="1528.4" rx="23.2" ry="11.2" fill="#7030A0"/>
<polyline points="1078.1,95.0 1078.1,60.1 1088.0,60.1" fill="none" stroke="#7030A0" stroke-width="3.5" stroke-linecap="butt" stroke-linejoin="miter"/>
<polygon points="1088.0,60.1 1103.0,45.3 1157.7,45.3 1157.7,74.9 1103.0,74.9" fill="#fff" stroke="#7030A0" stroke-width="3.8" stroke-linejoin="round"/>
<text x="1127.0" y="66.4" font-size="18" fill="#7030A0" font-weight="bold" text-anchor="middle" font-family='"Liberation Sans","Noto Sans CJK SC",sans-serif' textLength="55.0" lengthAdjust="spacingAndGlyphs" filter="url(#sh)">漏电流</text>
<polyline points="1079.9,310.0 1079.9,275.3 1091.5,275.3" fill="none" stroke="#7030A0" stroke-width="3.5" stroke-linecap="butt" stroke-linejoin="miter"/>
<polygon points="1091.5,275.3 1106.5,260.5 1160.0,260.5 1160.0,290.1 1106.5,290.1" fill="#fff" stroke="#7030A0" stroke-width="3.8" stroke-linejoin="round"/>
<text x="1129.9" y="281.6" font-size="18" fill="#7030A0" font-weight="bold" text-anchor="middle" font-family='"Liberation Sans","Noto Sans CJK SC",sans-serif' textLength="55.0" lengthAdjust="spacingAndGlyphs" filter="url(#sh)">漏电流</text>
<polyline points="1088.5,1282.0 1088.5,1247.4 1098.8,1247.4" fill="none" stroke="#7030A0" stroke-width="3.5" stroke-linecap="butt" stroke-linejoin="miter"/>
<polygon points="1098.8,1247.4 1113.8,1232.6 1167.9,1232.6 1167.9,1262.2 1113.8,1262.2" fill="#fff" stroke="#7030A0" stroke-width="3.8" stroke-linejoin="round"/>
<text x="1137.5" y="1253.7" font-size="18" fill="#7030A0" font-weight="bold" text-anchor="middle" font-family='"Liberation Sans","Noto Sans CJK SC",sans-serif' textLength="55.0" lengthAdjust="spacingAndGlyphs" filter="url(#sh)">漏电流</text>
<polyline points="1085.4,1524.0 1085.4,1489.2 1096.1,1489.2" fill="none" stroke="#7030A0" stroke-width="3.5" stroke-linecap="butt" stroke-linejoin="miter"/>
<polygon points="1096.1,1489.2 1111.1,1474.4 1165.2,1474.4 1165.2,1504.0 1111.1,1504.0" fill="#fff" stroke="#7030A0" stroke-width="3.8" stroke-linejoin="round"/>
<text x="1134.8" y="1495.5" font-size="18" fill="#7030A0" font-weight="bold" text-anchor="middle" font-family='"Liberation Sans","Noto Sans CJK SC",sans-serif' textLength="55.0" lengthAdjust="spacingAndGlyphs" filter="url(#sh)">漏电流</text>
<polyline points="1231.5,147.3 1239.0,147.3" fill="none" stroke="#FF0000" stroke-width="3.5" stroke-linecap="butt" stroke-linejoin="round"/>
<polygon points="1231.5,147.3 1217.5,132.6 1172.0,132.6 1172.0,162.0 1217.5,162.0" fill="#fff" stroke="#FF0000" stroke-width="3.8" stroke-linejoin="round"/>
<text x="1197.9" y="153.8" font-size="18.5" fill="#FF0000" font-weight="bold" text-anchor="middle" font-family='"Liberation Sans","Noto Sans CJK SC",sans-serif' textLength="37.0" lengthAdjust="spacingAndGlyphs" filter="url(#sh)">使能</text>
<polyline points="1229.5,360.0 1239.0,360.0" fill="none" stroke="#FF0000" stroke-width="3.5" stroke-linecap="butt" stroke-linejoin="round"/>
<polygon points="1229.5,360.0 1215.5,345.3 1170.2,345.3 1170.2,374.7 1215.5,374.7" fill="#fff" stroke="#FF0000" stroke-width="3.8" stroke-linejoin="round"/>
<text x="1196.0" y="366.5" font-size="18.5" fill="#FF0000" font-weight="bold" text-anchor="middle" font-family='"Liberation Sans","Noto Sans CJK SC",sans-serif' textLength="37.0" lengthAdjust="spacingAndGlyphs" filter="url(#sh)">使能</text>
<polyline points="1231.5,1088.7 1239.0,1088.7" fill="none" stroke="#FF0000" stroke-width="3.5" stroke-linecap="butt" stroke-linejoin="round"/>
<polygon points="1231.5,1088.7 1217.5,1074.0 1172.2,1074.0 1172.2,1103.4 1217.5,1103.4" fill="#fff" stroke="#FF0000" stroke-width="3.8" stroke-linejoin="round"/>
<text x="1198.0" y="1095.2" font-size="18.5" fill="#FF0000" font-weight="bold" text-anchor="middle" font-family='"Liberation Sans","Noto Sans CJK SC",sans-serif' textLength="37.0" lengthAdjust="spacingAndGlyphs" filter="url(#sh)">使能</text>
<polyline points="1229.5,1331.4 1239.0,1331.4" fill="none" stroke="#FF0000" stroke-width="3.5" stroke-linecap="butt" stroke-linejoin="round"/>
<polygon points="1229.5,1331.4 1215.5,1316.7 1170.3,1316.7 1170.3,1346.1 1215.5,1346.1" fill="#fff" stroke="#FF0000" stroke-width="3.8" stroke-linejoin="round"/>
<text x="1196.0" y="1337.9" font-size="18.5" fill="#FF0000" font-weight="bold" text-anchor="middle" font-family='"Liberation Sans","Noto Sans CJK SC",sans-serif' textLength="37.0" lengthAdjust="spacingAndGlyphs" filter="url(#sh)">使能</text>
<polyline points="1229.5,1574.6 1239.0,1574.6" fill="none" stroke="#FF0000" stroke-width="3.5" stroke-linecap="butt" stroke-linejoin="round"/>
<polygon points="1229.5,1574.6 1215.5,1559.9 1170.3,1559.9 1170.3,1589.3 1215.5,1589.3" fill="#fff" stroke="#FF0000" stroke-width="3.8" stroke-linejoin="round"/>
<text x="1196.0" y="1581.1" font-size="18.5" fill="#FF0000" font-weight="bold" text-anchor="middle" font-family='"Liberation Sans","Noto Sans CJK SC",sans-serif' textLength="37.0" lengthAdjust="spacingAndGlyphs" filter="url(#sh)">使能</text>
<polyline points="1503.3,102.3 1933.9,102.3 1933.9,231.2" fill="none" stroke="#FF0000" stroke-width="6" stroke-linecap="butt" stroke-linejoin="round"/>
<polygon points="1933.9,256.2 1924.7,229.2 1943.1,229.2" fill="#FF0000" stroke="none" stroke-width="0" stroke-linejoin="round"/>
<text x="1525.4" y="96.0" font-size="18.5" fill="#FF0000" font-weight="bold" text-anchor="start" font-family='"Liberation Sans","Noto Sans CJK SC",sans-serif' textLength="47.6" lengthAdjust="spacingAndGlyphs" >24VDC</text>
<polyline points="1503.3,281.0 1780.2,281.0" fill="none" stroke="#FF0000" stroke-width="6" stroke-linecap="butt" stroke-linejoin="round"/>
<polygon points="1805.2,281.0 1778.2,290.2 1778.2,271.8" fill="#FF0000" stroke="none" stroke-width="0" stroke-linejoin="round"/>
<text x="1525.4" y="277.1" font-size="18.5" fill="#FF0000" font-weight="bold" text-anchor="start" font-family='"Liberation Sans","Noto Sans CJK SC",sans-serif' textLength="47.6" lengthAdjust="spacingAndGlyphs" >24VDC</text>
<polyline points="1503.3,314.8 1704.2,314.8 1704.2,584.8 1780.2,584.8" fill="none" stroke="#FF0000" stroke-width="6" stroke-linecap="butt" stroke-linejoin="round"/>
<polygon points="1805.2,584.8 1778.2,594.0 1778.2,575.6" fill="#FF0000" stroke="none" stroke-width="0" stroke-linejoin="round"/>
<text x="1524.0" y="310.1" font-size="18.5" fill="#FF0000" font-weight="bold" text-anchor="start" font-family='"Liberation Sans","Noto Sans CJK SC",sans-serif' textLength="47.5" lengthAdjust="spacingAndGlyphs" >24VDC</text>
<polyline points="1503.3,356.6 1654.0,356.6 1654.0,860.8 1780.2,862.1" fill="none" stroke="#FF0000" stroke-width="6" stroke-linecap="butt" stroke-linejoin="round"/>
<polygon points="1805.2,862.4 1778.1,871.3 1778.3,852.9" fill="#FF0000" stroke="none" stroke-width="0" stroke-linejoin="round"/>
<text x="1525.4" y="353.0" font-size="18.5" fill="#FF0000" font-weight="bold" text-anchor="start" font-family='"Liberation Sans","Noto Sans CJK SC",sans-serif' textLength="47.6" lengthAdjust="spacingAndGlyphs" >24VDC</text>
<polyline points="1370.0,374.3 1370.0,474.6" fill="none" stroke="#FF0000" stroke-width="6" stroke-linecap="butt" stroke-linejoin="round"/>
<polygon points="1370.0,499.6 1360.8,472.6 1379.2,472.6" fill="#FF0000" stroke="none" stroke-width="0" stroke-linejoin="round"/>
<text x="1382.5" y="395.9" font-size="18.5" fill="#FF0000" font-weight="bold" text-anchor="start" font-family='"Liberation Sans","Noto Sans CJK SC",sans-serif' textLength="47.5" lengthAdjust="spacingAndGlyphs" >24VDC</text>
<polyline points="1370.0,424.2 1125.1,424.2 1125.1,1044.8 1213.0,1044.8" fill="none" stroke="#FF0000" stroke-width="6" stroke-linecap="butt" stroke-linejoin="round"/>
<polygon points="1238.0,1044.8 1211.0,1054.0 1211.0,1035.6" fill="#FF0000" stroke="none" stroke-width="0" stroke-linejoin="round"/>
<text x="1164.5" y="1038.1" font-size="18.5" fill="#FF0000" font-weight="bold" text-anchor="start" font-family='"Liberation Sans","Noto Sans CJK SC",sans-serif' textLength="47.2" lengthAdjust="spacingAndGlyphs" >24VDC</text>
<polyline points="1503.3,1255.4 1654.0,1255.4 1654.0,919.8 1780.2,921.5" fill="none" stroke="#FF0000" stroke-width="6" stroke-linecap="butt" stroke-linejoin="round"/>
<polygon points="1805.2,921.8 1778.1,930.6 1778.3,912.2" fill="#FF0000" stroke="none" stroke-width="0" stroke-linejoin="round"/>
<text x="1516.3" y="1249.9" font-size="18.5" fill="#FF0000" font-weight="bold" text-anchor="start" font-family='"Liberation Sans","Noto Sans CJK SC",sans-serif' textLength="103.5" lengthAdjust="spacingAndGlyphs" >24VDC/12VDC</text>
<polyline points="1503.3,1287.6 1780.2,1287.6" fill="none" stroke="#FF0000" stroke-width="6" stroke-linecap="butt" stroke-linejoin="round"/>
<polygon points="1805.2,1287.6 1778.2,1296.8 1778.2,1278.4" fill="#FF0000" stroke="none" stroke-width="0" stroke-linejoin="round"/>
<text x="1514.4" y="1282.1" font-size="18.5" fill="#FF0000" font-weight="bold" text-anchor="start" font-family='"Liberation Sans","Noto Sans CJK SC",sans-serif' textLength="47.1" lengthAdjust="spacingAndGlyphs" >24VDC</text>
<polyline points="1503.3,1534.0 1677.4,1534.0 1677.4,1322.9 1780.2,1322.9" fill="none" stroke="#FF0000" stroke-width="6" stroke-linecap="butt" stroke-linejoin="round"/>
<polygon points="1805.2,1322.9 1778.2,1332.1 1778.2,1313.7" fill="#FF0000" stroke="none" stroke-width="0" stroke-linejoin="round"/>
<text x="1517.5" y="1528.7" font-size="18.5" fill="#FF0000" font-weight="bold" text-anchor="start" font-family='"Liberation Sans","Noto Sans CJK SC",sans-serif' textLength="47.3" lengthAdjust="spacingAndGlyphs" >24VDC</text>
<polyline points="1807.2,891.0 1421.9,891.0 1421.9,883.3" fill="none" stroke="#FF0000" stroke-width="6" stroke-linecap="butt" stroke-linejoin="round"/>
<circle cx="1807.2" cy="891.0" r="3.0" fill="#FF0000"/>
<polygon points="1421.9,858.8 1430.9,885.3 1412.9,885.3" fill="#FF0000" stroke="none" stroke-width="0" stroke-linejoin="round"/>
<text x="1735.9" y="885.3" font-size="18.5" fill="#FF0000" font-weight="bold" text-anchor="start" font-family='"Liberation Sans","Noto Sans CJK SC",sans-serif' textLength="46.1" lengthAdjust="spacingAndGlyphs" >12VDC</text>
<polyline points="1937.6,1347.0 1937.6,1456.0" fill="none" stroke="#FF0000" stroke-width="6" stroke-linecap="butt" stroke-linejoin="round"/>
<circle cx="1937.6" cy="1347.0" r="3.0" fill="#FF0000"/>
<polygon points="1937.6,1481.0 1928.4,1454.0 1946.8,1454.0" fill="#FF0000" stroke="none" stroke-width="0" stroke-linejoin="round"/>
<text x="1946.6" y="1413.7" font-size="18.5" fill="#FF0000" font-weight="bold" text-anchor="start" font-family='"Liberation Sans","Noto Sans CJK SC",sans-serif' textLength="46.1" lengthAdjust="spacingAndGlyphs" >24VDC</text>
<polyline points="1323.9,922.0 1323.9,959.5" fill="none" stroke="#F4A460" stroke-width="5.8" stroke-linecap="butt" stroke-linejoin="round"/>
<polygon points="1323.9,985.0 1314.5,957.5 1333.3,957.5" fill="#F4A460" stroke="none" stroke-width="0" stroke-linejoin="round"/>
<polyline points="1323.9,923.0 1323.9,885.5" fill="none" stroke="#F4A460" stroke-width="5.8" stroke-linecap="butt" stroke-linejoin="round"/>
<polygon points="1323.9,860.0 1333.3,887.5 1314.5,887.5" fill="#F4A460" stroke="none" stroke-width="0" stroke-linejoin="round"/>
<text x="1266.8" y="927.7" font-size="18.5" fill="#FFC000" font-weight="bold" text-anchor="start" font-family='"Liberation Sans","Noto Sans CJK SC",sans-serif' textLength="47.2" lengthAdjust="spacingAndGlyphs" >RS232</text>
<polyline points="1163.6,800.0 1163.6,598.7 1212.5,598.7" fill="none" stroke="#F4A460" stroke-width="5.8" stroke-linecap="butt" stroke-linejoin="round"/>
<polygon points="1238.0,598.7 1210.5,608.1 1210.5,589.3" fill="#F4A460" stroke="none" stroke-width="0" stroke-linejoin="round"/>
<polyline points="1163.6,798.0 1163.6,1005.1 1212.5,1005.1" fill="none" stroke="#F4A460" stroke-width="5.8" stroke-linecap="butt" stroke-linejoin="round"/>
<polygon points="1238.0,1005.1 1210.5,1014.5 1210.5,995.7" fill="#F4A460" stroke="none" stroke-width="0" stroke-linejoin="round"/>
<text x="1168.4" y="625.5" font-size="18.5" fill="#FFC000" font-weight="bold" text-anchor="start" font-family='"Liberation Sans","Noto Sans CJK SC",sans-serif' textLength="46.9" lengthAdjust="spacingAndGlyphs" >RS232</text>
<text x="1168.4" y="989.7" font-size="18.5" fill="#FFC000" font-weight="bold" text-anchor="start" font-family='"Liberation Sans","Noto Sans CJK SC",sans-serif' textLength="46.9" lengthAdjust="spacingAndGlyphs" >RS232</text>
<polyline points="1229.5,508.0 1239.0,508.0" fill="none" stroke="#FFC000" stroke-width="3.5" stroke-linecap="butt" stroke-linejoin="round"/>
<polygon points="1229.5,508.0 1216.0,493.4 1216.0,522.6" fill="#fff" stroke="#FFC000" stroke-width="3.8" stroke-linejoin="round"/>
<rect x="1170.2" y="493.4" width="45.8" height="29.2" fill="#fff" stroke="#FFC000" stroke-width="3.8" stroke-linejoin="round"/>
<text x="1194.1" y="513.6" font-size="16" fill="#FFC000" font-weight="normal" text-anchor="middle" font-family='"Liberation Serif","Noto Serif CJK SC",serif' textLength="40.0" lengthAdjust="spacingAndGlyphs" filter="url(#sh)">RS232</text>
<polyline points="1229.5,553.3 1239.0,553.3" fill="none" stroke="#FFC000" stroke-width="3.5" stroke-linecap="butt" stroke-linejoin="round"/>
<polygon points="1229.5,553.3 1216.0,538.7 1216.0,567.9" fill="#fff" stroke="#FFC000" stroke-width="3.8" stroke-linejoin="round"/>
<rect x="1169.1" y="538.7" width="46.9" height="29.2" fill="#fff" stroke="#FFC000" stroke-width="3.8" stroke-linejoin="round"/>
<text x="1193.5" y="558.9" font-size="16" fill="#FFC000" font-weight="normal" text-anchor="middle" font-family='"Liberation Serif","Noto Serif CJK SC",serif' textLength="40.0" lengthAdjust="spacingAndGlyphs" filter="url(#sh)">RS485</text>
<polyline points="1228.5,780.6 1239.0,780.6" fill="none" stroke="#FFC000" stroke-width="3.5" stroke-linecap="butt" stroke-linejoin="round"/>
<polygon points="1228.5,780.6 1215.0,766.0 1170.2,766.0 1170.2,795.2 1215.0,795.2" fill="#fff" stroke="#FFC000" stroke-width="3.8" stroke-linejoin="round"/>
<text x="1196.1" y="786.7" font-size="17.5" fill="#FFC000" font-weight="bold" text-anchor="middle" font-family='"Liberation Sans","Noto Sans CJK SC",sans-serif' textLength="47.0" lengthAdjust="spacingAndGlyphs" filter="url(#sh)" stroke="#FFC000" stroke-width="0.5">RS232</text>
<polyline points="1228.5,827.6 1239.0,827.6" fill="none" stroke="#FFC000" stroke-width="3.5" stroke-linecap="butt" stroke-linejoin="round"/>
<polygon points="1228.5,827.6 1215.0,813.0 1170.2,813.0 1170.2,842.2 1215.0,842.2" fill="#fff" stroke="#FFC000" stroke-width="3.8" stroke-linejoin="round"/>
<text x="1196.1" y="833.7" font-size="17.5" fill="#FFC000" font-weight="bold" text-anchor="middle" font-family='"Liberation Sans","Noto Sans CJK SC",sans-serif' textLength="47.0" lengthAdjust="spacingAndGlyphs" filter="url(#sh)" stroke="#FFC000" stroke-width="0.5">RS485</text>
<polyline points="1503.3,514.7 1511.8,514.7" fill="none" stroke="#000" stroke-width="4.2" stroke-linecap="butt" stroke-linejoin="round"/>
<polygon points="1511.3,514.7 1527.3,500.5 1570.4,500.5 1570.4,528.9 1527.3,528.9" fill="#fff" stroke="#000" stroke-width="4.2" stroke-linejoin="round"/>
<text x="1546.2" y="521.2" font-size="18.5" fill="#000" font-weight="bold" text-anchor="middle" font-family='"Liberation Sans","Noto Sans CJK SC",sans-serif' textLength="37.0" lengthAdjust="spacingAndGlyphs" filter="url(#sh)">温度</text>
<polyline points="1503.3,559.2 1511.8,559.2" fill="none" stroke="#000" stroke-width="4.2" stroke-linecap="butt" stroke-linejoin="round"/>
<polygon points="1511.3,559.2 1527.3,545.0 1570.4,545.0 1570.4,573.4 1527.3,573.4" fill="#fff" stroke="#000" stroke-width="4.2" stroke-linejoin="round"/>
<text x="1546.2" y="565.7" font-size="18.5" fill="#000" font-weight="bold" text-anchor="middle" font-family='"Liberation Sans","Noto Sans CJK SC",sans-serif' textLength="37.0" lengthAdjust="spacingAndGlyphs" filter="url(#sh)">湿度</text>
<polyline points="1503.3,599.1 1511.3,599.1" fill="none" stroke="#00B0F0" stroke-width="3.8" stroke-linecap="butt" stroke-linejoin="round"/>
<polygon points="1511.3,599.1 1527.3,584.6 1572.0,584.6 1572.0,613.6 1527.3,613.6" fill="#fff" stroke="#00B0F0" stroke-width="3.8" stroke-linejoin="round"/>
<text x="1547.0" y="604.9" font-size="16.5" fill="#00B0F0" font-weight="bold" text-anchor="middle" font-family='"Liberation Sans","Noto Sans CJK SC",sans-serif' textLength="34.5" lengthAdjust="spacingAndGlyphs" filter="url(#sh)" stroke="#00B0F0" stroke-width="0.5">RJ45</text>
<polyline points="1503.3,771.7 1511.3,771.7" fill="none" stroke="#00B0F0" stroke-width="3.8" stroke-linecap="butt" stroke-linejoin="round"/>
<polygon points="1511.3,771.7 1527.3,757.2 1572.0,757.2 1572.0,786.2 1527.3,786.2" fill="#fff" stroke="#00B0F0" stroke-width="3.8" stroke-linejoin="round"/>
<text x="1547.0" y="777.5" font-size="16.5" fill="#00B0F0" font-weight="bold" text-anchor="middle" font-family='"Liberation Sans","Noto Sans CJK SC",sans-serif' textLength="34.5" lengthAdjust="spacingAndGlyphs" filter="url(#sh)" stroke="#00B0F0" stroke-width="0.5">RJ45</text>
<polyline points="1503.3,818.4 1511.3,818.4" fill="none" stroke="#00B050" stroke-width="3.8" stroke-linecap="butt" stroke-linejoin="round"/>
<polygon points="1511.3,818.4 1527.3,803.9 1572.0,803.9 1572.0,832.9 1527.3,832.9" fill="#fff" stroke="#00B050" stroke-width="3.8" stroke-linejoin="round"/>
<text x="1547.0" y="824.2" font-size="16.5" fill="#00B050" font-weight="bold" text-anchor="middle" font-family='"Liberation Sans","Noto Sans CJK SC",sans-serif' textLength="33.0" lengthAdjust="spacingAndGlyphs" filter="url(#sh)" stroke="#00B050" stroke-width="0.5">CAN</text>
<polyline points="1503.3,999.8 1511.8,999.8" fill="none" stroke="#000" stroke-width="4.2" stroke-linecap="butt" stroke-linejoin="round"/>
<polygon points="1511.3,999.8 1527.3,985.6 1571.4,985.6 1571.4,1014.0 1527.3,1014.0" fill="#fff" stroke="#000" stroke-width="4.2" stroke-linejoin="round"/>
<text x="1546.8" y="1006.3" font-size="18.5" fill="#000" font-weight="bold" text-anchor="middle" font-family='"Liberation Sans","Noto Sans CJK SC",sans-serif' textLength="37.0" lengthAdjust="spacingAndGlyphs" filter="url(#sh)">温度</text>
<polyline points="1503.3,1044.2 1511.8,1044.2" fill="none" stroke="#000" stroke-width="4.2" stroke-linecap="butt" stroke-linejoin="round"/>
<polygon points="1511.3,1044.2 1527.3,1030.0 1571.4,1030.0 1571.4,1058.4 1527.3,1058.4" fill="#fff" stroke="#000" stroke-width="4.2" stroke-linejoin="round"/>
<text x="1546.8" y="1050.7" font-size="18.5" fill="#000" font-weight="bold" text-anchor="middle" font-family='"Liberation Sans","Noto Sans CJK SC",sans-serif' textLength="37.0" lengthAdjust="spacingAndGlyphs" filter="url(#sh)">湿度</text>
<polyline points="1503.3,1088.9 1511.8,1088.9" fill="none" stroke="#000" stroke-width="4.2" stroke-linecap="butt" stroke-linejoin="round"/>
<polygon points="1511.3,1088.9 1527.3,1074.7 1571.4,1074.7 1571.4,1103.1 1527.3,1103.1" fill="#fff" stroke="#000" stroke-width="4.2" stroke-linejoin="round"/>
<text x="1546.8" y="1095.4" font-size="18.5" fill="#000" font-weight="bold" text-anchor="middle" font-family='"Liberation Sans","Noto Sans CJK SC",sans-serif' textLength="37.0" lengthAdjust="spacingAndGlyphs" filter="url(#sh)">漏水</text>
<polyline points="2070.6,584.6 2078.6,584.6" fill="none" stroke="#00B0F0" stroke-width="3.8" stroke-linecap="butt" stroke-linejoin="round"/>
<polygon points="2078.6,584.6 2094.6,570.1 2139.0,570.1 2139.0,599.1 2094.6,599.1" fill="#fff" stroke="#00B0F0" stroke-width="3.8" stroke-linejoin="round"/>
<text x="2114.2" y="590.4" font-size="16.5" fill="#00B0F0" font-weight="bold" text-anchor="middle" font-family='"Liberation Sans","Noto Sans CJK SC",sans-serif' textLength="34.5" lengthAdjust="spacingAndGlyphs" filter="url(#sh)" stroke="#00B0F0" stroke-width="0.5">RJ45</text>
<polyline points="2069.4,1521.4 2077.4,1521.4" fill="none" stroke="#00B0F0" stroke-width="3.8" stroke-linecap="butt" stroke-linejoin="round"/>
<polygon points="2077.4,1521.4 2093.4,1506.9 2093.4,1535.9" fill="#fff" stroke="#00B0F0" stroke-width="3.8" stroke-linejoin="round"/>
<rect x="2093.4" y="1506.9" width="44.8" height="29.0" fill="#fff" stroke="#00B0F0" stroke-width="3.8" stroke-linejoin="round"/>
<text x="2112.5" y="1527.2" font-size="16.5" fill="#00B0F0" font-weight="bold" text-anchor="middle" font-family='"Liberation Sans","Noto Sans CJK SC",sans-serif' textLength="34.5" lengthAdjust="spacingAndGlyphs" filter="url(#sh)" stroke="#00B0F0" stroke-width="0.5">RJ45</text>
<polyline points="2069.4,1573.3 2077.4,1573.3" fill="none" stroke="#00B0F0" stroke-width="3.8" stroke-linecap="butt" stroke-linejoin="round"/>
<polygon points="2077.4,1573.3 2093.4,1558.8 2138.2,1558.8 2138.2,1587.8 2093.4,1587.8" fill="#fff" stroke="#00B0F0" stroke-width="3.8" stroke-linejoin="round"/>
<text x="2113.2" y="1579.1" font-size="16.5" fill="#00B0F0" font-weight="bold" text-anchor="middle" font-family='"Liberation Sans","Noto Sans CJK SC",sans-serif' textLength="34.5" lengthAdjust="spacingAndGlyphs" filter="url(#sh)" stroke="#00B0F0" stroke-width="0.5">RJ45</text>
<polyline points="2070.6,314.8 2224.9,314.8" fill="none" stroke="#FF0000" stroke-width="6" stroke-linecap="round" stroke-linejoin="round"/>
<polyline points="2224.9,229.4 2224.9,611.2" fill="none" stroke="#FF0000" stroke-width="6" stroke-linecap="round" stroke-linejoin="round"/>
<polyline points="2224.9,230.4 2310.2,231.2" fill="none" stroke="#FF0000" stroke-width="6" stroke-linecap="butt" stroke-linejoin="round"/>
<polygon points="2336.2,231.4 2308.1,240.5 2308.3,221.7" fill="#FF0000" stroke="none" stroke-width="0" stroke-linejoin="round"/>
<polyline points="2224.9,306.9 2310.2,307.7" fill="none" stroke="#FF0000" stroke-width="6" stroke-linecap="butt" stroke-linejoin="round"/>
<polygon points="2336.2,307.9 2308.1,317.0 2308.3,298.2" fill="#FF0000" stroke="none" stroke-width="0" stroke-linejoin="round"/>
<polyline points="2224.9,384.0 2310.2,384.8" fill="none" stroke="#FF0000" stroke-width="6" stroke-linecap="butt" stroke-linejoin="round"/>
<polygon points="2336.2,385.0 2308.1,394.1 2308.3,375.3" fill="#FF0000" stroke="none" stroke-width="0" stroke-linejoin="round"/>
<polyline points="2224.9,459.2 2310.2,460.0" fill="none" stroke="#FF0000" stroke-width="6" stroke-linecap="butt" stroke-linejoin="round"/>
<polygon points="2336.2,460.2 2308.1,469.3 2308.3,450.5" fill="#FF0000" stroke="none" stroke-width="0" stroke-linejoin="round"/>
<polyline points="2224.9,534.6 2310.2,535.4" fill="none" stroke="#FF0000" stroke-width="6" stroke-linecap="butt" stroke-linejoin="round"/>
<polygon points="2336.2,535.6 2308.1,544.7 2308.3,525.9" fill="#FF0000" stroke="none" stroke-width="0" stroke-linejoin="round"/>
<polyline points="2224.9,610.2 2310.2,611.0" fill="none" stroke="#FF0000" stroke-width="6" stroke-linecap="butt" stroke-linejoin="round"/>
<polygon points="2336.2,611.2 2308.1,620.3 2308.3,601.5" fill="#FF0000" stroke="none" stroke-width="0" stroke-linejoin="round"/>
<text x="2074.5" y="309.8" font-size="18.5" fill="#FF0000" font-weight="bold" text-anchor="start" font-family='"Liberation Sans","Noto Sans CJK SC",sans-serif' textLength="47.3" lengthAdjust="spacingAndGlyphs" >24VDC</text>
<polyline points="2070.6,891.6 2224.9,891.6" fill="none" stroke="#FF0000" stroke-width="6" stroke-linecap="round" stroke-linejoin="round"/>
<polyline points="2224.9,700.0 2224.9,1020.8" fill="none" stroke="#FF0000" stroke-width="6" stroke-linecap="round" stroke-linejoin="round"/>
<polyline points="2224.9,701.0 2310.2,701.8" fill="none" stroke="#FF0000" stroke-width="6" stroke-linecap="butt" stroke-linejoin="round"/>
<polygon points="2336.2,702.0 2308.1,711.1 2308.3,692.3" fill="#FF0000" stroke="none" stroke-width="0" stroke-linejoin="round"/>
<polyline points="2224.9,780.1 2310.2,780.9" fill="none" stroke="#FF0000" stroke-width="6" stroke-linecap="butt" stroke-linejoin="round"/>
<polygon points="2336.2,781.1 2308.1,790.2 2308.3,771.4" fill="#FF0000" stroke="none" stroke-width="0" stroke-linejoin="round"/>
<polyline points="2224.9,856.8 2310.2,857.6" fill="none" stroke="#FF0000" stroke-width="6" stroke-linecap="butt" stroke-linejoin="round"/>
<polygon points="2336.2,857.8 2308.1,866.9 2308.3,848.1" fill="#FF0000" stroke="none" stroke-width="0" stroke-linejoin="round"/>
<polyline points="2224.9,934.4 2310.2,935.2" fill="none" stroke="#FF0000" stroke-width="6" stroke-linecap="butt" stroke-linejoin="round"/>
<polygon points="2336.2,935.4 2308.1,944.5 2308.3,925.7" fill="#FF0000" stroke="none" stroke-width="0" stroke-linejoin="round"/>
<polyline points="2224.9,1019.8 2310.2,1020.6" fill="none" stroke="#FF0000" stroke-width="6" stroke-linecap="butt" stroke-linejoin="round"/>
<polygon points="2336.2,1020.8 2308.1,1029.9 2308.3,1011.1" fill="#FF0000" stroke="none" stroke-width="0" stroke-linejoin="round"/>
<text x="2082.4" y="884.9" font-size="18.5" fill="#FF0000" font-weight="bold" text-anchor="start" font-family='"Liberation Sans","Noto Sans CJK SC",sans-serif' textLength="47.3" lengthAdjust="spacingAndGlyphs" >24VDC</text>
<polyline points="2070.6,1286.2 2224.9,1286.2" fill="none" stroke="#FF0000" stroke-width="6" stroke-linecap="round" stroke-linejoin="round"/>
<polyline points="2224.9,1108.8 2224.9,1422.5" fill="none" stroke="#FF0000" stroke-width="6" stroke-linecap="round" stroke-linejoin="round"/>
<polyline points="2224.9,1109.8 2310.2,1110.6" fill="none" stroke="#FF0000" stroke-width="6" stroke-linecap="butt" stroke-linejoin="round"/>
<polygon points="2336.2,1110.8 2308.1,1119.9 2308.3,1101.1" fill="#FF0000" stroke="none" stroke-width="0" stroke-linejoin="round"/>
<polyline points="2224.9,1188.1 2310.2,1188.9" fill="none" stroke="#FF0000" stroke-width="6" stroke-linecap="butt" stroke-linejoin="round"/>
<polygon points="2336.2,1189.1 2308.1,1198.2 2308.3,1179.4" fill="#FF0000" stroke="none" stroke-width="0" stroke-linejoin="round"/>
<polyline points="2224.9,1268.0 2310.2,1268.8" fill="none" stroke="#FF0000" stroke-width="6" stroke-linecap="butt" stroke-linejoin="round"/>
<polygon points="2336.2,1269.0 2308.1,1278.1 2308.3,1259.3" fill="#FF0000" stroke="none" stroke-width="0" stroke-linejoin="round"/>
<polyline points="2224.9,1345.5 2310.2,1346.3" fill="none" stroke="#FF0000" stroke-width="6" stroke-linecap="butt" stroke-linejoin="round"/>
<polygon points="2336.2,1346.5 2308.1,1355.6 2308.3,1336.8" fill="#FF0000" stroke="none" stroke-width="0" stroke-linejoin="round"/>
<polyline points="2224.9,1421.5 2310.2,1422.3" fill="none" stroke="#FF0000" stroke-width="6" stroke-linecap="butt" stroke-linejoin="round"/>
<polygon points="2336.2,1422.5 2308.1,1431.6 2308.3,1412.8" fill="#FF0000" stroke="none" stroke-width="0" stroke-linejoin="round"/>
<text x="2084.4" y="1277.9" font-size="18.5" fill="#FF0000" font-weight="bold" text-anchor="start" font-family='"Liberation Sans","Noto Sans CJK SC",sans-serif' textLength="47.3" lengthAdjust="spacingAndGlyphs" >24VDC</text>
<polyline points="2303.5,142.5 2338.0,142.5" fill="none" stroke="#00B0F0" stroke-width="3.5" stroke-linecap="butt" stroke-linejoin="round"/>
<polygon points="2303.5,142.5 2290.5,128.1 2244.8,128.1 2244.8,156.9 2290.5,156.9" fill="#fff" stroke="#00B0F0" stroke-width="3.8" stroke-linejoin="round"/>
<text x="2269.5" y="148.3" font-size="16.5" fill="#00B0F0" font-weight="bold" text-anchor="middle" font-family='"Liberation Sans","Noto Sans CJK SC",sans-serif' textLength="34.5" lengthAdjust="spacingAndGlyphs" filter="url(#sh)" stroke="#00B0F0" stroke-width="0.5">RJ45</text>
<polyline points="2305.5,266.5 2313.8,266.5 2313.8,241.9 2338.0,241.9" fill="none" stroke="#00B0F0" stroke-width="3.5" stroke-linecap="butt" stroke-linejoin="round"/>
<polygon points="2305.5,266.5 2292.5,252.1 2292.5,280.9" fill="#fff" stroke="#00B0F0" stroke-width="3.8" stroke-linejoin="round"/>
<rect x="2246.8" y="252.1" width="45.8" height="28.8" fill="#fff" stroke="#00B0F0" stroke-width="3.8" stroke-linejoin="round"/>
<text x="2271.4" y="272.3" font-size="16.5" fill="#00B0F0" font-weight="bold" text-anchor="middle" font-family='"Liberation Sans","Noto Sans CJK SC",sans-serif' textLength="34.5" lengthAdjust="spacingAndGlyphs" filter="url(#sh)" stroke="#00B0F0" stroke-width="0.5">RJ45</text>
<polyline points="2303.5,345.5 2311.5,345.5 2311.5,320.7 2338.0,320.7" fill="none" stroke="#FFC000" stroke-width="3.5" stroke-linecap="butt" stroke-linejoin="round"/>
<polygon points="2303.5,345.5 2290.5,331.2 2290.5,359.8" fill="#fff" stroke="#FFC000" stroke-width="3.8" stroke-linejoin="round"/>
<rect x="2244.8" y="331.2" width="45.8" height="28.6" fill="#fff" stroke="#FFC000" stroke-width="3.8" stroke-linejoin="round"/>
<text x="2268.6" y="351.1" font-size="16" fill="#FFC000" font-weight="normal" text-anchor="middle" font-family='"Liberation Serif","Noto Serif CJK SC",serif' textLength="40.0" lengthAdjust="spacingAndGlyphs" filter="url(#sh)">RS232</text>
<polyline points="2305.1,420.7 2313.8,420.7 2313.8,395.5 2338.0,395.5" fill="none" stroke="#FFC000" stroke-width="3.5" stroke-linecap="butt" stroke-linejoin="round"/>
<polygon points="2305.1,420.7 2292.1,406.3 2246.3,406.3 2246.3,435.1 2292.1,435.1" fill="#fff" stroke="#FFC000" stroke-width="3.8" stroke-linejoin="round"/>
<text x="2272.6" y="426.8" font-size="17.5" fill="#FFC000" font-weight="bold" text-anchor="middle" font-family='"Liberation Sans","Noto Sans CJK SC",sans-serif' textLength="47.0" lengthAdjust="spacingAndGlyphs" filter="url(#sh)" stroke="#FFC000" stroke-width="0.5">RS485</text>
<polyline points="2305.1,498.2 2313.8,498.2 2313.8,473.0 2338.0,473.0" fill="none" stroke="#00B0F0" stroke-width="3.5" stroke-linecap="butt" stroke-linejoin="round"/>
<polygon points="2305.1,498.2 2292.1,483.8 2292.1,512.6" fill="#fff" stroke="#00B0F0" stroke-width="3.8" stroke-linejoin="round"/>
<rect x="2246.3" y="483.8" width="45.8" height="28.8" fill="#fff" stroke="#00B0F0" stroke-width="3.8" stroke-linejoin="round"/>
<text x="2271.0" y="504.0" font-size="16.5" fill="#00B0F0" font-weight="bold" text-anchor="middle" font-family='"Liberation Sans","Noto Sans CJK SC",sans-serif' textLength="34.5" lengthAdjust="spacingAndGlyphs" filter="url(#sh)" stroke="#00B0F0" stroke-width="0.5">RJ45</text>
<polyline points="2305.5,572.4 2313.8,572.4 2313.8,546.4 2338.0,546.4" fill="none" stroke="#FFC000" stroke-width="3.5" stroke-linecap="butt" stroke-linejoin="round"/>
<polygon points="2305.5,572.4 2292.5,558.0 2246.8,558.0 2246.8,586.8 2292.5,586.8" fill="#fff" stroke="#FFC000" stroke-width="3.8" stroke-linejoin="round"/>
<text x="2273.1" y="578.5" font-size="17.5" fill="#FFC000" font-weight="bold" text-anchor="middle" font-family='"Liberation Sans","Noto Sans CJK SC",sans-serif' textLength="47.0" lengthAdjust="spacingAndGlyphs" filter="url(#sh)" stroke="#FFC000" stroke-width="0.5">RS232</text>
<polyline points="2303.5,648.6 2311.5,648.6 2311.5,623.2 2338.0,623.2" fill="none" stroke="#FFC000" stroke-width="3.5" stroke-linecap="butt" stroke-linejoin="round"/>
<polygon points="2303.5,648.6 2290.5,634.3 2290.5,662.9" fill="#fff" stroke="#FFC000" stroke-width="3.8" stroke-linejoin="round"/>
<rect x="2244.8" y="634.3" width="45.8" height="28.6" fill="#fff" stroke="#FFC000" stroke-width="3.8" stroke-linejoin="round"/>
<text x="2268.6" y="654.2" font-size="16" fill="#FFC000" font-weight="normal" text-anchor="middle" font-family='"Liberation Serif","Noto Serif CJK SC",serif' textLength="40.0" lengthAdjust="spacingAndGlyphs" filter="url(#sh)">RS485</text>
<polyline points="2305.5,742.0 2313.8,742.0 2313.8,716.5 2338.0,716.5" fill="none" stroke="#00B0F0" stroke-width="3.5" stroke-linecap="butt" stroke-linejoin="round"/>
<polygon points="2305.5,742.0 2292.5,727.6 2292.5,756.4" fill="#fff" stroke="#00B0F0" stroke-width="3.8" stroke-linejoin="round"/>
<rect x="2246.8" y="727.6" width="45.8" height="28.8" fill="#fff" stroke="#00B0F0" stroke-width="3.8" stroke-linejoin="round"/>
<text x="2271.4" y="747.8" font-size="16.5" fill="#00B0F0" font-weight="bold" text-anchor="middle" font-family='"Liberation Sans","Noto Sans CJK SC",sans-serif' textLength="34.5" lengthAdjust="spacingAndGlyphs" filter="url(#sh)" stroke="#00B0F0" stroke-width="0.5">RJ45</text>
<polyline points="2305.5,821.3 2313.8,821.3 2313.8,796.0 2338.0,796.0" fill="none" stroke="#00B0F0" stroke-width="3.5" stroke-linecap="butt" stroke-linejoin="round"/>
<polygon points="2305.5,821.3 2292.5,806.9 2292.5,835.7" fill="#fff" stroke="#00B0F0" stroke-width="3.8" stroke-linejoin="round"/>
<rect x="2246.8" y="806.9" width="45.8" height="28.8" fill="#fff" stroke="#00B0F0" stroke-width="3.8" stroke-linejoin="round"/>
<text x="2271.4" y="827.1" font-size="16.5" fill="#00B0F0" font-weight="bold" text-anchor="middle" font-family='"Liberation Sans","Noto Sans CJK SC",sans-serif' textLength="34.5" lengthAdjust="spacingAndGlyphs" filter="url(#sh)" stroke="#00B0F0" stroke-width="0.5">RJ45</text>
<polyline points="2304.7,897.9 2313.8,897.9 2313.8,871.9 2338.0,871.9" fill="none" stroke="#00B0F0" stroke-width="3.5" stroke-linecap="butt" stroke-linejoin="round"/>
<polygon points="2304.7,897.9 2291.7,883.5 2291.7,912.3" fill="#fff" stroke="#00B0F0" stroke-width="3.8" stroke-linejoin="round"/>
<rect x="2245.9" y="883.5" width="45.8" height="28.8" fill="#fff" stroke="#00B0F0" stroke-width="3.8" stroke-linejoin="round"/>
<text x="2270.6" y="903.7" font-size="16.5" fill="#00B0F0" font-weight="bold" text-anchor="middle" font-family='"Liberation Sans","Noto Sans CJK SC",sans-serif' textLength="34.5" lengthAdjust="spacingAndGlyphs" filter="url(#sh)" stroke="#00B0F0" stroke-width="0.5">RJ45</text>
<polyline points="2305.5,975.8 2313.8,975.8 2313.8,951.4 2338.0,951.4" fill="none" stroke="#00B0F0" stroke-width="3.5" stroke-linecap="butt" stroke-linejoin="round"/>
<polygon points="2305.5,975.8 2292.5,961.4 2292.5,990.2" fill="#fff" stroke="#00B0F0" stroke-width="3.8" stroke-linejoin="round"/>
<rect x="2246.8" y="961.4" width="45.8" height="28.8" fill="#fff" stroke="#00B0F0" stroke-width="3.8" stroke-linejoin="round"/>
<text x="2271.4" y="981.6" font-size="16.5" fill="#00B0F0" font-weight="bold" text-anchor="middle" font-family='"Liberation Sans","Noto Sans CJK SC",sans-serif' textLength="34.5" lengthAdjust="spacingAndGlyphs" filter="url(#sh)" stroke="#00B0F0" stroke-width="0.5">RJ45</text>
<polyline points="2305.5,1056.4 2313.8,1056.4 2313.8,1037.2 2338.0,1037.2" fill="none" stroke="#00B0F0" stroke-width="3.5" stroke-linecap="butt" stroke-linejoin="round"/>
<polygon points="2305.5,1056.4 2292.5,1042.0 2246.8,1042.0 2246.8,1070.8 2292.5,1070.8" fill="#fff" stroke="#00B0F0" stroke-width="3.8" stroke-linejoin="round"/>
<text x="2271.5" y="1062.2" font-size="16.5" fill="#00B0F0" font-weight="bold" text-anchor="middle" font-family='"Liberation Sans","Noto Sans CJK SC",sans-serif' textLength="34.5" lengthAdjust="spacingAndGlyphs" filter="url(#sh)" stroke="#00B0F0" stroke-width="0.5">RJ45</text>
<polyline points="2305.5,1151.0 2313.8,1151.0 2313.8,1126.0 2338.0,1126.0" fill="none" stroke="#00B0F0" stroke-width="3.5" stroke-linecap="butt" stroke-linejoin="round"/>
<polygon points="2305.5,1151.0 2292.5,1136.6 2292.5,1165.4" fill="#fff" stroke="#00B0F0" stroke-width="3.8" stroke-linejoin="round"/>
<rect x="2246.8" y="1136.6" width="45.8" height="28.8" fill="#fff" stroke="#00B0F0" stroke-width="3.8" stroke-linejoin="round"/>
<text x="2271.4" y="1156.8" font-size="16.5" fill="#00B0F0" font-weight="bold" text-anchor="middle" font-family='"Liberation Sans","Noto Sans CJK SC",sans-serif' textLength="34.5" lengthAdjust="spacingAndGlyphs" filter="url(#sh)" stroke="#00B0F0" stroke-width="0.5">RJ45</text>
<polyline points="2305.5,1229.6 2313.8,1229.6 2313.8,1204.8 2338.0,1204.8" fill="none" stroke="#00B0F0" stroke-width="3.5" stroke-linecap="butt" stroke-linejoin="round"/>
<polygon points="2305.5,1229.6 2292.5,1215.2 2292.5,1244.0" fill="#fff" stroke="#00B0F0" stroke-width="3.8" stroke-linejoin="round"/>
<rect x="2246.8" y="1215.2" width="45.8" height="28.8" fill="#fff" stroke="#00B0F0" stroke-width="3.8" stroke-linejoin="round"/>
<text x="2271.4" y="1235.4" font-size="16.5" fill="#00B0F0" font-weight="bold" text-anchor="middle" font-family='"Liberation Sans","Noto Sans CJK SC",sans-serif' textLength="34.5" lengthAdjust="spacingAndGlyphs" filter="url(#sh)" stroke="#00B0F0" stroke-width="0.5">RJ45</text>
<polyline points="2302.3,1306.3 2310.7,1306.3 2310.7,1281.1 2338.0,1281.1" fill="none" stroke="#00B0F0" stroke-width="3.5" stroke-linecap="butt" stroke-linejoin="round"/>
<polygon points="2302.3,1306.3 2289.3,1291.9 2289.3,1320.7" fill="#fff" stroke="#00B0F0" stroke-width="3.8" stroke-linejoin="round"/>
<rect x="2243.6" y="1291.9" width="45.8" height="28.8" fill="#fff" stroke="#00B0F0" stroke-width="3.8" stroke-linejoin="round"/>
<text x="2268.2" y="1312.1" font-size="16.5" fill="#00B0F0" font-weight="bold" text-anchor="middle" font-family='"Liberation Sans","Noto Sans CJK SC",sans-serif' textLength="34.5" lengthAdjust="spacingAndGlyphs" filter="url(#sh)" stroke="#00B0F0" stroke-width="0.5">RJ45</text>
<polyline points="2305.5,1386.0 2313.8,1386.0 2313.8,1361.0 2338.0,1361.0" fill="none" stroke="#00B0F0" stroke-width="3.5" stroke-linecap="butt" stroke-linejoin="round"/>
<polygon points="2305.5,1386.0 2292.5,1371.6 2292.5,1400.4" fill="#fff" stroke="#00B0F0" stroke-width="3.8" stroke-linejoin="round"/>
<rect x="2246.8" y="1371.6" width="45.8" height="28.8" fill="#fff" stroke="#00B0F0" stroke-width="3.8" stroke-linejoin="round"/>
<text x="2271.4" y="1391.8" font-size="16.5" fill="#00B0F0" font-weight="bold" text-anchor="middle" font-family='"Liberation Sans","Noto Sans CJK SC",sans-serif' textLength="34.5" lengthAdjust="spacingAndGlyphs" filter="url(#sh)" stroke="#00B0F0" stroke-width="0.5">RJ45</text>
<polyline points="2304.3,1460.4 2312.6,1460.4 2312.6,1434.6 2338.0,1434.6" fill="none" stroke="#00B0F0" stroke-width="3.5" stroke-linecap="butt" stroke-linejoin="round"/>
<polygon points="2304.3,1460.4 2291.3,1446.0 2291.3,1474.8" fill="#fff" stroke="#00B0F0" stroke-width="3.8" stroke-linejoin="round"/>
<rect x="2245.6" y="1446.0" width="45.8" height="28.8" fill="#fff" stroke="#00B0F0" stroke-width="3.8" stroke-linejoin="round"/>
<text x="2270.2" y="1466.2" font-size="16.5" fill="#00B0F0" font-weight="bold" text-anchor="middle" font-family='"Liberation Sans","Noto Sans CJK SC",sans-serif' textLength="34.5" lengthAdjust="spacingAndGlyphs" filter="url(#sh)" stroke="#00B0F0" stroke-width="0.5">RJ45</text>
</svg></body></html>
